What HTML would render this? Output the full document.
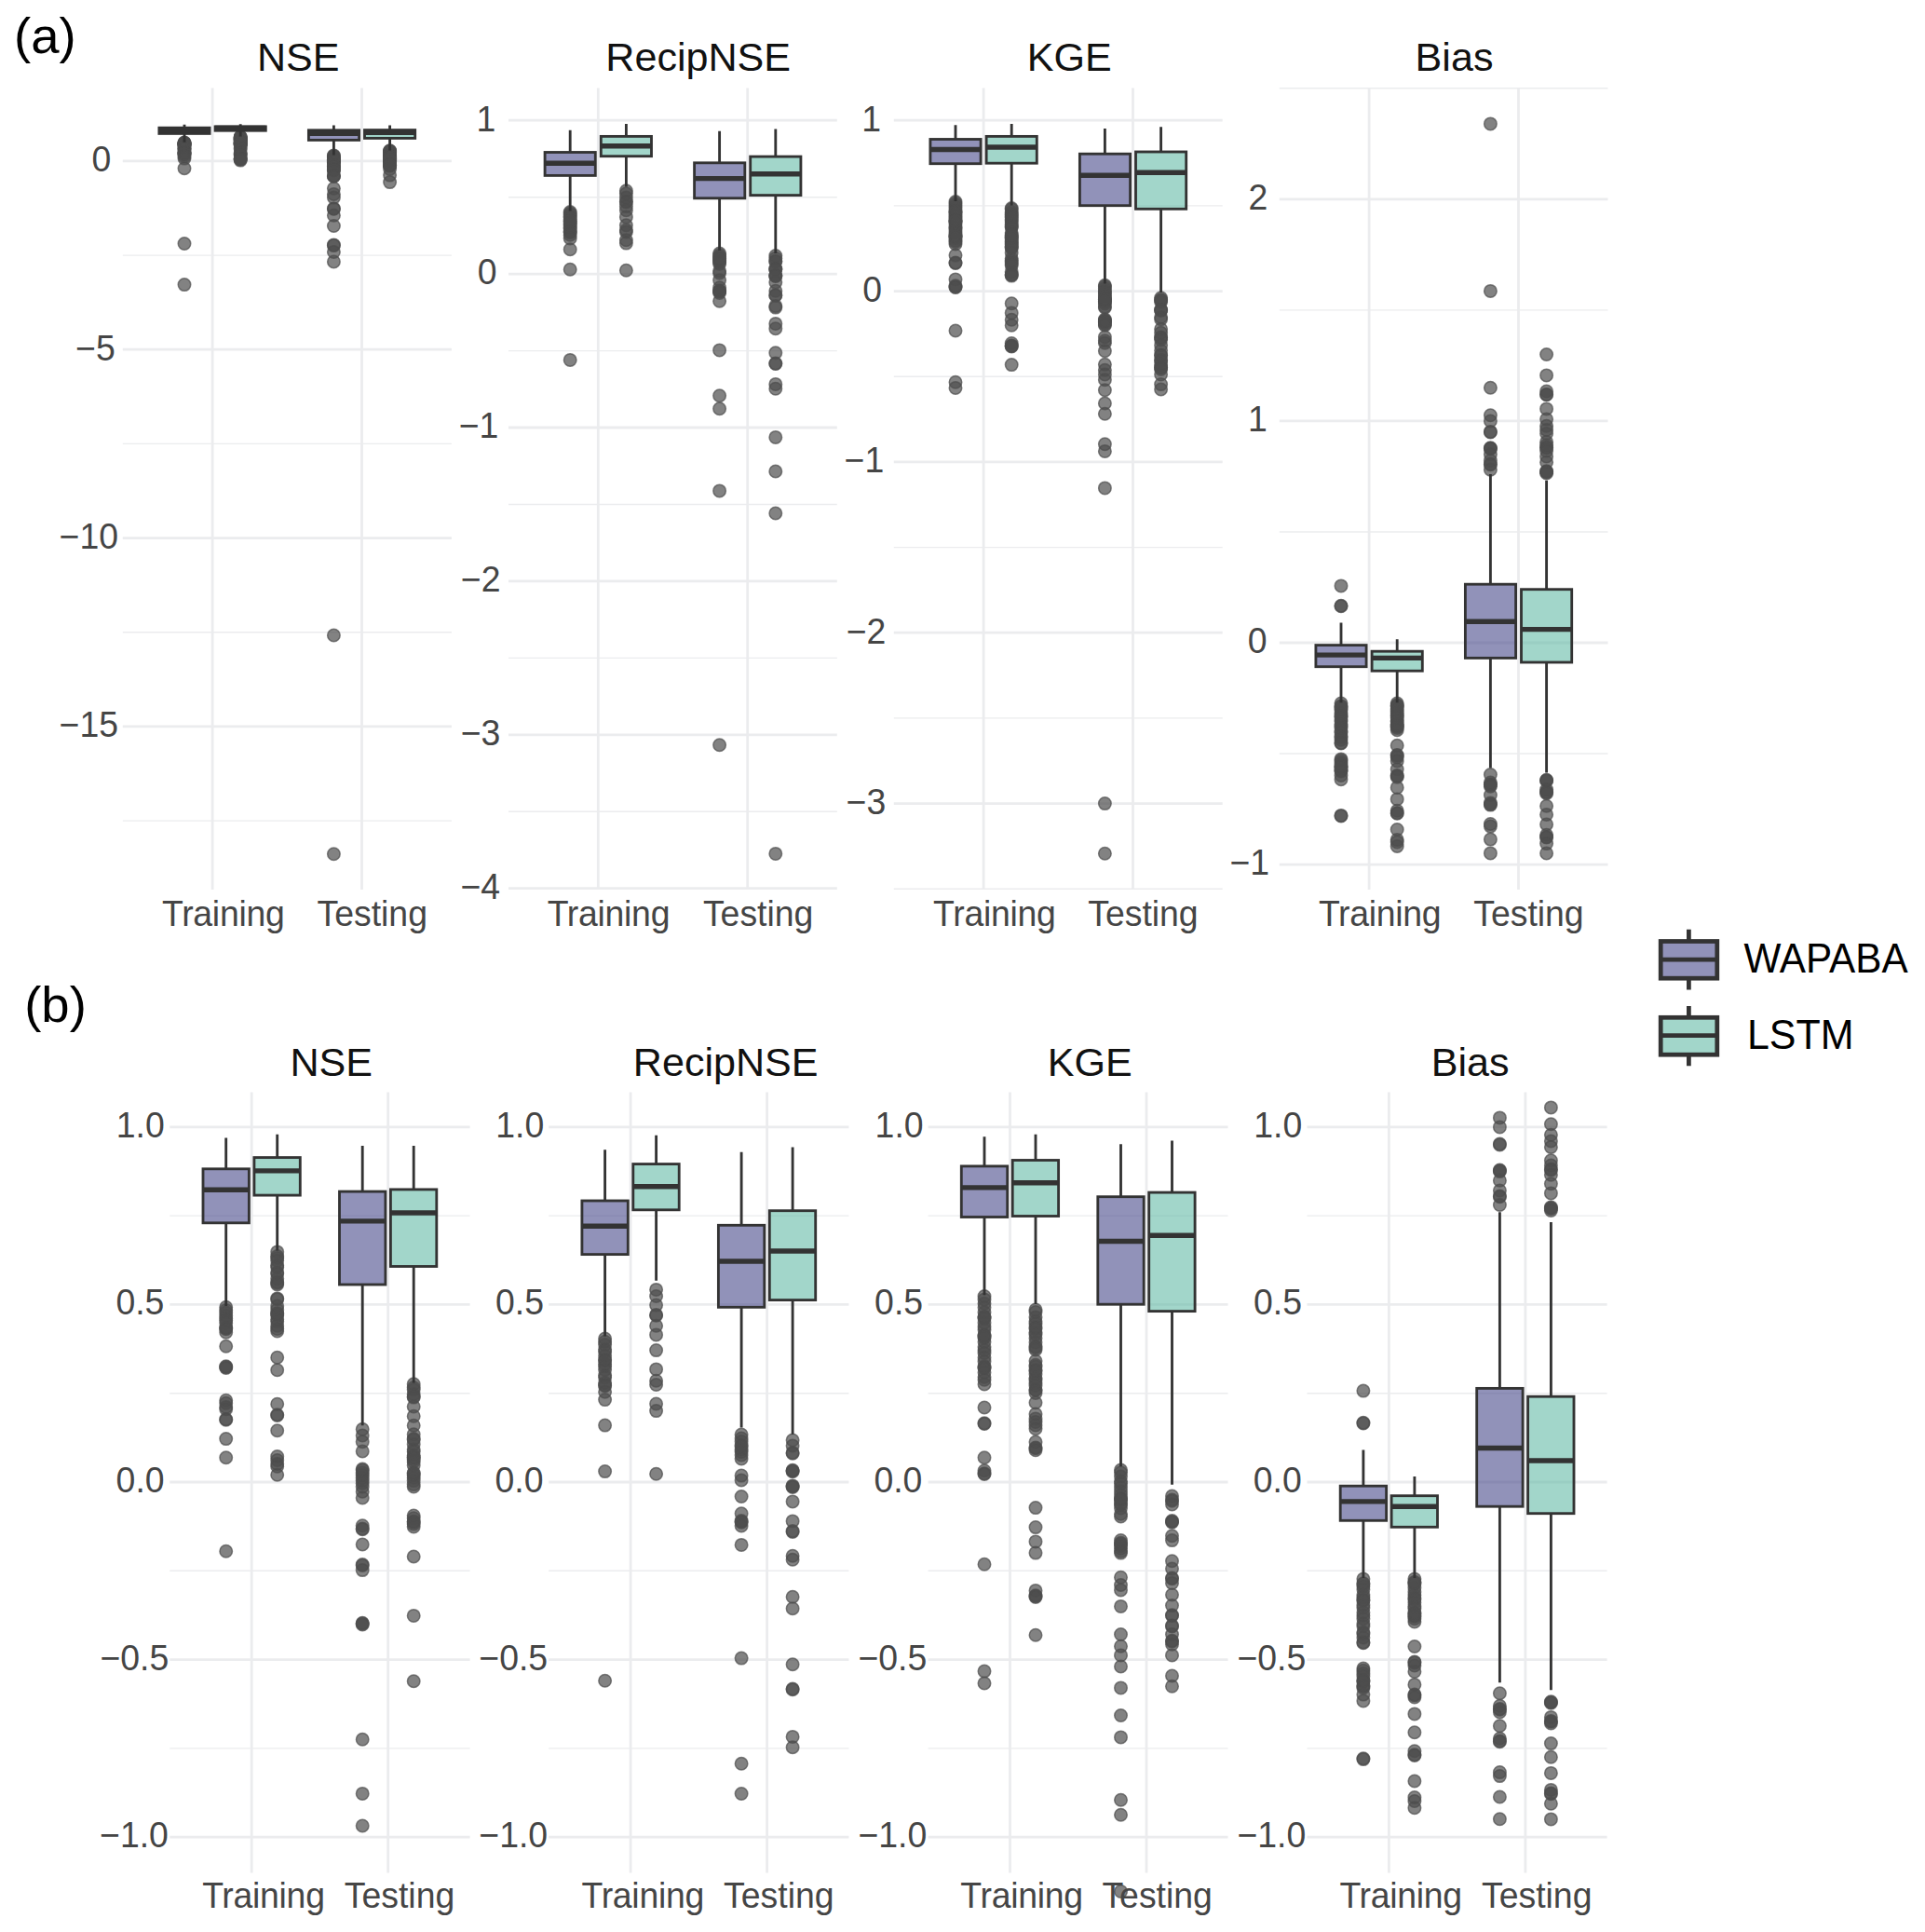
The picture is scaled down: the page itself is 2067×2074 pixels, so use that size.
<!DOCTYPE html>
<html lang="en"><head><meta charset="utf-8"><title>Model performance boxplots</title>
<style>html,body{margin:0;padding:0;background:#fff}svg{display:block}</style></head>
<body>
<svg width="2067" height="2074" viewBox="0 0 2067 2074" font-family="Liberation Sans, Arial, Helvetica, sans-serif">
<rect width="2067" height="2074" fill="#fff"/>
<path d="M131.8 274.1H484.9" stroke="#EBECEE" stroke-width="1.4"/>
<path d="M131.8 476.4H484.9" stroke="#EBECEE" stroke-width="1.4"/>
<path d="M131.8 678.8H484.9" stroke="#EBECEE" stroke-width="1.4"/>
<path d="M131.8 881.1H484.9" stroke="#EBECEE" stroke-width="1.4"/>
<path d="M131.8 172.9H484.9" stroke="#EBECEE" stroke-width="2.8"/>
<path d="M131.8 375.2H484.9" stroke="#EBECEE" stroke-width="2.8"/>
<path d="M131.8 577.6H484.9" stroke="#EBECEE" stroke-width="2.8"/>
<path d="M131.8 779.9H484.9" stroke="#EBECEE" stroke-width="2.8"/>
<path d="M228.1 94.6V955.0" stroke="#EBECEE" stroke-width="2.8"/>
<path d="M388.5 94.6V955.0" stroke="#EBECEE" stroke-width="2.8"/>
<g fill="#4D4D4D" fill-opacity=".7" stroke="#4D4D4D" stroke-opacity=".7" stroke-width="1.5"><circle cx="198.0" cy="153.0" r="6.75"/><circle cx="198.0" cy="153.3" r="6.75"/><circle cx="198.0" cy="153.6" r="6.75"/><circle cx="198.0" cy="154.0" r="6.75"/><circle cx="198.0" cy="154.3" r="6.75"/><circle cx="198.0" cy="154.5" r="6.75"/><circle cx="198.0" cy="154.8" r="6.75"/><circle cx="198.0" cy="155.3" r="6.75"/><circle cx="198.0" cy="155.5" r="6.75"/><circle cx="198.0" cy="155.8" r="6.75"/><circle cx="198.0" cy="155.4" r="6.75"/><circle cx="198.0" cy="157.4" r="6.75"/><circle cx="198.0" cy="159.7" r="6.75"/><circle cx="198.0" cy="159.8" r="6.75"/><circle cx="198.0" cy="159.9" r="6.75"/><circle cx="198.0" cy="163.6" r="6.75"/><circle cx="198.0" cy="163.9" r="6.75"/><circle cx="198.0" cy="164.3" r="6.75"/><circle cx="198.0" cy="164.6" r="6.75"/><circle cx="198.0" cy="165.7" r="6.75"/><circle cx="198.0" cy="165.8" r="6.75"/><circle cx="198.0" cy="168.0" r="6.75"/><circle cx="198.0" cy="170.1" r="6.75"/><circle cx="198.0" cy="180.8" r="6.75"/><circle cx="198.0" cy="261.5" r="6.75"/><circle cx="198.0" cy="305.6" r="6.75"/></g>
<g fill="#4D4D4D" fill-opacity=".7" stroke="#4D4D4D" stroke-opacity=".7" stroke-width="1.5"><circle cx="258.2" cy="146.7" r="6.75"/><circle cx="258.2" cy="147.2" r="6.75"/><circle cx="258.2" cy="147.4" r="6.75"/><circle cx="258.2" cy="147.7" r="6.75"/><circle cx="258.2" cy="148.2" r="6.75"/><circle cx="258.2" cy="148.4" r="6.75"/><circle cx="258.2" cy="149.0" r="6.75"/><circle cx="258.2" cy="149.2" r="6.75"/><circle cx="258.2" cy="149.7" r="6.75"/><circle cx="258.2" cy="150.1" r="6.75"/><circle cx="258.2" cy="150.4" r="6.75"/><circle cx="258.2" cy="150.2" r="6.75"/><circle cx="258.2" cy="152.0" r="6.75"/><circle cx="258.2" cy="152.1" r="6.75"/><circle cx="258.2" cy="152.8" r="6.75"/><circle cx="258.2" cy="153.2" r="6.75"/><circle cx="258.2" cy="153.7" r="6.75"/><circle cx="258.2" cy="153.9" r="6.75"/><circle cx="258.2" cy="154.3" r="6.75"/><circle cx="258.2" cy="154.6" r="6.75"/><circle cx="258.2" cy="155.1" r="6.75"/><circle cx="258.2" cy="155.4" r="6.75"/><circle cx="258.2" cy="155.7" r="6.75"/><circle cx="258.2" cy="153.7" r="6.75"/><circle cx="258.2" cy="158.7" r="6.75"/><circle cx="258.2" cy="160.1" r="6.75"/><circle cx="258.2" cy="164.0" r="6.75"/><circle cx="258.2" cy="165.2" r="6.75"/><circle cx="258.2" cy="165.3" r="6.75"/><circle cx="258.2" cy="167.0" r="6.75"/><circle cx="258.2" cy="170.0" r="6.75"/><circle cx="258.2" cy="170.4" r="6.75"/><circle cx="258.2" cy="170.8" r="6.75"/><circle cx="258.2" cy="171.1" r="6.75"/><circle cx="258.2" cy="172.1" r="6.75"/></g>
<g fill="#4D4D4D" fill-opacity=".7" stroke="#4D4D4D" stroke-opacity=".7" stroke-width="1.5"><circle cx="358.4" cy="166.9" r="6.75"/><circle cx="358.4" cy="167.6" r="6.75"/><circle cx="358.4" cy="168.3" r="6.75"/><circle cx="358.4" cy="169.4" r="6.75"/><circle cx="358.4" cy="171.4" r="6.75"/><circle cx="358.4" cy="171.8" r="6.75"/><circle cx="358.4" cy="172.1" r="6.75"/><circle cx="358.4" cy="172.4" r="6.75"/><circle cx="358.4" cy="172.7" r="6.75"/><circle cx="358.4" cy="173.0" r="6.75"/><circle cx="358.4" cy="173.4" r="6.75"/><circle cx="358.4" cy="171.6" r="6.75"/><circle cx="358.4" cy="174.0" r="6.75"/><circle cx="358.4" cy="174.7" r="6.75"/><circle cx="358.4" cy="177.9" r="6.75"/><circle cx="358.4" cy="178.2" r="6.75"/><circle cx="358.4" cy="178.3" r="6.75"/><circle cx="358.4" cy="180.0" r="6.75"/><circle cx="358.4" cy="182.3" r="6.75"/><circle cx="358.4" cy="182.4" r="6.75"/><circle cx="358.4" cy="182.9" r="6.75"/><circle cx="358.4" cy="189.0" r="6.75"/><circle cx="358.4" cy="189.0" r="6.75"/><circle cx="358.4" cy="189.1" r="6.75"/><circle cx="358.4" cy="202.2" r="6.75"/><circle cx="358.4" cy="208.4" r="6.75"/><circle cx="358.4" cy="212.1" r="6.75"/><circle cx="358.4" cy="223.9" r="6.75"/><circle cx="358.4" cy="224.3" r="6.75"/><circle cx="358.4" cy="231.2" r="6.75"/><circle cx="358.4" cy="242.5" r="6.75"/><circle cx="358.4" cy="262.9" r="6.75"/><circle cx="358.4" cy="263.6" r="6.75"/><circle cx="358.4" cy="270.4" r="6.75"/><circle cx="358.4" cy="281.0" r="6.75"/><circle cx="358.4" cy="682.0" r="6.75"/><circle cx="358.4" cy="916.7" r="6.75"/></g>
<g fill="#4D4D4D" fill-opacity=".7" stroke="#4D4D4D" stroke-opacity=".7" stroke-width="1.5"><circle cx="418.6" cy="161.7" r="6.75"/><circle cx="418.6" cy="162.1" r="6.75"/><circle cx="418.6" cy="162.4" r="6.75"/><circle cx="418.6" cy="162.9" r="6.75"/><circle cx="418.6" cy="163.2" r="6.75"/><circle cx="418.6" cy="163.2" r="6.75"/><circle cx="418.6" cy="164.3" r="6.75"/><circle cx="418.6" cy="165.4" r="6.75"/><circle cx="418.6" cy="166.5" r="6.75"/><circle cx="418.6" cy="167.5" r="6.75"/><circle cx="418.6" cy="168.0" r="6.75"/><circle cx="418.6" cy="168.1" r="6.75"/><circle cx="418.6" cy="168.6" r="6.75"/><circle cx="418.6" cy="169.2" r="6.75"/><circle cx="418.6" cy="169.4" r="6.75"/><circle cx="418.6" cy="169.9" r="6.75"/><circle cx="418.6" cy="170.1" r="6.75"/><circle cx="418.6" cy="170.3" r="6.75"/><circle cx="418.6" cy="170.6" r="6.75"/><circle cx="418.6" cy="171.0" r="6.75"/><circle cx="418.6" cy="170.1" r="6.75"/><circle cx="418.6" cy="171.8" r="6.75"/><circle cx="418.6" cy="172.1" r="6.75"/><circle cx="418.6" cy="172.4" r="6.75"/><circle cx="418.6" cy="172.7" r="6.75"/><circle cx="418.6" cy="173.2" r="6.75"/><circle cx="418.6" cy="173.4" r="6.75"/><circle cx="418.6" cy="171.9" r="6.75"/><circle cx="418.6" cy="176.7" r="6.75"/><circle cx="418.6" cy="177.0" r="6.75"/><circle cx="418.6" cy="177.4" r="6.75"/><circle cx="418.6" cy="177.7" r="6.75"/><circle cx="418.6" cy="178.0" r="6.75"/><circle cx="418.6" cy="177.5" r="6.75"/><circle cx="418.6" cy="181.4" r="6.75"/><circle cx="418.6" cy="188.1" r="6.75"/><circle cx="418.6" cy="195.6" r="6.75"/></g>
<path d="M198.0 133.7V137.2M198.0 143.4V152.8" stroke="#333333" stroke-width="2.85"/>
<rect x="170.9" y="137.2" width="54.2" height="6.2" fill="#414487" fill-opacity="0.58" stroke="none"/>
<rect x="170.9" y="137.2" width="54.2" height="6.2" fill="none" stroke="#333333" stroke-width="2.85"/>
<path d="M170.9 139.6H225.1" stroke="#333333" stroke-width="5.4"/>
<path d="M258.2 133.3V135.9M258.2 140.2V146.5" stroke="#333333" stroke-width="2.85"/>
<rect x="231.1" y="135.9" width="54.2" height="4.3" fill="#5FB8A3" fill-opacity="0.58" stroke="none"/>
<rect x="231.1" y="135.9" width="54.2" height="4.3" fill="none" stroke="#333333" stroke-width="2.85"/>
<path d="M231.1 137.4H285.2" stroke="#333333" stroke-width="5.4"/>
<path d="M358.4 134.6V139.8M358.4 150.4V166.5" stroke="#333333" stroke-width="2.85"/>
<rect x="331.4" y="139.8" width="54.2" height="10.6" fill="#414487" fill-opacity="0.58" stroke="none"/>
<rect x="331.4" y="139.8" width="54.2" height="10.6" fill="none" stroke="#333333" stroke-width="2.85"/>
<path d="M331.4 143.2H385.5" stroke="#333333" stroke-width="5.4"/>
<path d="M418.6 134.6V139.6M418.6 148.3V161.6" stroke="#333333" stroke-width="2.85"/>
<rect x="391.5" y="139.6" width="54.2" height="8.8" fill="#5FB8A3" fill-opacity="0.58" stroke="none"/>
<rect x="391.5" y="139.6" width="54.2" height="8.8" fill="none" stroke="#333333" stroke-width="2.85"/>
<path d="M391.5 142.2H445.7" stroke="#333333" stroke-width="5.4"/>
<path d="M546.0 211.7H898.8" stroke="#EBECEE" stroke-width="1.4"/>
<path d="M546.0 376.6H898.8" stroke="#EBECEE" stroke-width="1.4"/>
<path d="M546.0 541.5H898.8" stroke="#EBECEE" stroke-width="1.4"/>
<path d="M546.0 706.4H898.8" stroke="#EBECEE" stroke-width="1.4"/>
<path d="M546.0 871.2H898.8" stroke="#EBECEE" stroke-width="1.4"/>
<path d="M546.0 129.2H898.8" stroke="#EBECEE" stroke-width="2.8"/>
<path d="M546.0 294.1H898.8" stroke="#EBECEE" stroke-width="2.8"/>
<path d="M546.0 459.0H898.8" stroke="#EBECEE" stroke-width="2.8"/>
<path d="M546.0 623.9H898.8" stroke="#EBECEE" stroke-width="2.8"/>
<path d="M546.0 788.8H898.8" stroke="#EBECEE" stroke-width="2.8"/>
<path d="M546.0 953.7H898.8" stroke="#EBECEE" stroke-width="2.8"/>
<path d="M642.3 94.6V955.0" stroke="#EBECEE" stroke-width="2.8"/>
<path d="M802.7 94.6V955.0" stroke="#EBECEE" stroke-width="2.8"/>
<g fill="#4D4D4D" fill-opacity=".7" stroke="#4D4D4D" stroke-opacity=".7" stroke-width="1.5"><circle cx="612.2" cy="227.5" r="6.75"/><circle cx="612.2" cy="228.9" r="6.75"/><circle cx="612.2" cy="230.3" r="6.75"/><circle cx="612.2" cy="232.6" r="6.75"/><circle cx="612.2" cy="233.6" r="6.75"/><circle cx="612.2" cy="235.4" r="6.75"/><circle cx="612.2" cy="237.4" r="6.75"/><circle cx="612.2" cy="239.3" r="6.75"/><circle cx="612.2" cy="240.4" r="6.75"/><circle cx="612.2" cy="241.9" r="6.75"/><circle cx="612.2" cy="244.5" r="6.75"/><circle cx="612.2" cy="245.6" r="6.75"/><circle cx="612.2" cy="248.0" r="6.75"/><circle cx="612.2" cy="249.1" r="6.75"/><circle cx="612.2" cy="237.6" r="6.75"/><circle cx="612.2" cy="249.4" r="6.75"/><circle cx="612.2" cy="252.3" r="6.75"/><circle cx="612.2" cy="255.9" r="6.75"/><circle cx="612.2" cy="267.8" r="6.75"/><circle cx="612.2" cy="289.2" r="6.75"/><circle cx="612.2" cy="386.4" r="6.75"/></g>
<g fill="#4D4D4D" fill-opacity=".7" stroke="#4D4D4D" stroke-opacity=".7" stroke-width="1.5"><circle cx="672.4" cy="204.7" r="6.75"/><circle cx="672.4" cy="207.8" r="6.75"/><circle cx="672.4" cy="212.0" r="6.75"/><circle cx="672.4" cy="216.4" r="6.75"/><circle cx="672.4" cy="216.8" r="6.75"/><circle cx="672.4" cy="221.6" r="6.75"/><circle cx="672.4" cy="225.7" r="6.75"/><circle cx="672.4" cy="232.9" r="6.75"/><circle cx="672.4" cy="241.7" r="6.75"/><circle cx="672.4" cy="247.1" r="6.75"/><circle cx="672.4" cy="248.9" r="6.75"/><circle cx="672.4" cy="257.8" r="6.75"/><circle cx="672.4" cy="261.1" r="6.75"/><circle cx="672.4" cy="290.3" r="6.75"/></g>
<g fill="#4D4D4D" fill-opacity=".7" stroke="#4D4D4D" stroke-opacity=".7" stroke-width="1.5"><circle cx="772.6" cy="272.0" r="6.75"/><circle cx="772.6" cy="273.8" r="6.75"/><circle cx="772.6" cy="275.3" r="6.75"/><circle cx="772.6" cy="277.0" r="6.75"/><circle cx="772.6" cy="279.0" r="6.75"/><circle cx="772.6" cy="280.1" r="6.75"/><circle cx="772.6" cy="281.6" r="6.75"/><circle cx="772.6" cy="283.3" r="6.75"/><circle cx="772.6" cy="277.6" r="6.75"/><circle cx="772.6" cy="291.1" r="6.75"/><circle cx="772.6" cy="293.2" r="6.75"/><circle cx="772.6" cy="300.8" r="6.75"/><circle cx="772.6" cy="308.7" r="6.75"/><circle cx="772.6" cy="312.1" r="6.75"/><circle cx="772.6" cy="312.4" r="6.75"/><circle cx="772.6" cy="312.8" r="6.75"/><circle cx="772.6" cy="314.4" r="6.75"/><circle cx="772.6" cy="323.3" r="6.75"/><circle cx="772.6" cy="375.9" r="6.75"/><circle cx="772.6" cy="424.8" r="6.75"/><circle cx="772.6" cy="438.8" r="6.75"/><circle cx="772.6" cy="526.9" r="6.75"/><circle cx="772.6" cy="799.8" r="6.75"/></g>
<g fill="#4D4D4D" fill-opacity=".7" stroke="#4D4D4D" stroke-opacity=".7" stroke-width="1.5"><circle cx="832.8" cy="274.6" r="6.75"/><circle cx="832.8" cy="277.2" r="6.75"/><circle cx="832.8" cy="280.4" r="6.75"/><circle cx="832.8" cy="280.8" r="6.75"/><circle cx="832.8" cy="288.6" r="6.75"/><circle cx="832.8" cy="288.9" r="6.75"/><circle cx="832.8" cy="289.3" r="6.75"/><circle cx="832.8" cy="295.8" r="6.75"/><circle cx="832.8" cy="296.1" r="6.75"/><circle cx="832.8" cy="296.5" r="6.75"/><circle cx="832.8" cy="303.1" r="6.75"/><circle cx="832.8" cy="312.2" r="6.75"/><circle cx="832.8" cy="316.9" r="6.75"/><circle cx="832.8" cy="317.2" r="6.75"/><circle cx="832.8" cy="328.4" r="6.75"/><circle cx="832.8" cy="330.1" r="6.75"/><circle cx="832.8" cy="347.4" r="6.75"/><circle cx="832.8" cy="352.8" r="6.75"/><circle cx="832.8" cy="378.8" r="6.75"/><circle cx="832.8" cy="390.1" r="6.75"/><circle cx="832.8" cy="390.5" r="6.75"/><circle cx="832.8" cy="412.4" r="6.75"/><circle cx="832.8" cy="417.3" r="6.75"/><circle cx="832.8" cy="469.4" r="6.75"/><circle cx="832.8" cy="506.0" r="6.75"/><circle cx="832.8" cy="551.0" r="6.75"/><circle cx="832.8" cy="916.4" r="6.75"/></g>
<path d="M612.2 139.8V163.5M612.2 188.4V226.4" stroke="#333333" stroke-width="2.85"/>
<rect x="585.1" y="163.5" width="54.2" height="24.9" fill="#414487" fill-opacity="0.58" stroke="none"/>
<rect x="585.1" y="163.5" width="54.2" height="24.9" fill="none" stroke="#333333" stroke-width="2.85"/>
<path d="M585.1 175.3H639.3" stroke="#333333" stroke-width="5.4"/>
<path d="M672.4 133.1V146.4M672.4 167.7V200.6" stroke="#333333" stroke-width="2.85"/>
<rect x="645.3" y="146.4" width="54.2" height="21.3" fill="#5FB8A3" fill-opacity="0.58" stroke="none"/>
<rect x="645.3" y="146.4" width="54.2" height="21.3" fill="none" stroke="#333333" stroke-width="2.85"/>
<path d="M645.3 156.8H699.4" stroke="#333333" stroke-width="5.4"/>
<path d="M772.6 140.8V174.8M772.6 212.9V268.8" stroke="#333333" stroke-width="2.85"/>
<rect x="745.6" y="174.8" width="54.2" height="38.0" fill="#414487" fill-opacity="0.58" stroke="none"/>
<rect x="745.6" y="174.8" width="54.2" height="38.0" fill="none" stroke="#333333" stroke-width="2.85"/>
<path d="M745.6 191.6H799.7" stroke="#333333" stroke-width="5.4"/>
<path d="M832.8 138.5V168.1M832.8 209.6V271.9" stroke="#333333" stroke-width="2.85"/>
<rect x="805.7" y="168.1" width="54.2" height="41.5" fill="#5FB8A3" fill-opacity="0.58" stroke="none"/>
<rect x="805.7" y="168.1" width="54.2" height="41.5" fill="none" stroke="#333333" stroke-width="2.85"/>
<path d="M805.7 186.8H859.9" stroke="#333333" stroke-width="5.4"/>
<path d="M959.8 220.9H1312.7" stroke="#EBECEE" stroke-width="1.4"/>
<path d="M959.8 404.2H1312.7" stroke="#EBECEE" stroke-width="1.4"/>
<path d="M959.8 587.6H1312.7" stroke="#EBECEE" stroke-width="1.4"/>
<path d="M959.8 770.9H1312.7" stroke="#EBECEE" stroke-width="1.4"/>
<path d="M959.8 954.3H1312.7" stroke="#EBECEE" stroke-width="1.4"/>
<path d="M959.8 129.2H1312.7" stroke="#EBECEE" stroke-width="2.8"/>
<path d="M959.8 312.6H1312.7" stroke="#EBECEE" stroke-width="2.8"/>
<path d="M959.8 495.9H1312.7" stroke="#EBECEE" stroke-width="2.8"/>
<path d="M959.8 679.2H1312.7" stroke="#EBECEE" stroke-width="2.8"/>
<path d="M959.8 862.6H1312.7" stroke="#EBECEE" stroke-width="2.8"/>
<path d="M1056.1 94.6V955.0" stroke="#EBECEE" stroke-width="2.8"/>
<path d="M1216.5 94.6V955.0" stroke="#EBECEE" stroke-width="2.8"/>
<g fill="#4D4D4D" fill-opacity=".7" stroke="#4D4D4D" stroke-opacity=".7" stroke-width="1.5"><circle cx="1026.0" cy="216.6" r="6.75"/><circle cx="1026.0" cy="218.2" r="6.75"/><circle cx="1026.0" cy="220.3" r="6.75"/><circle cx="1026.0" cy="222.3" r="6.75"/><circle cx="1026.0" cy="224.9" r="6.75"/><circle cx="1026.0" cy="227.1" r="6.75"/><circle cx="1026.0" cy="228.2" r="6.75"/><circle cx="1026.0" cy="230.3" r="6.75"/><circle cx="1026.0" cy="232.5" r="6.75"/><circle cx="1026.0" cy="233.9" r="6.75"/><circle cx="1026.0" cy="236.5" r="6.75"/><circle cx="1026.0" cy="238.1" r="6.75"/><circle cx="1026.0" cy="240.1" r="6.75"/><circle cx="1026.0" cy="242.9" r="6.75"/><circle cx="1026.0" cy="244.4" r="6.75"/><circle cx="1026.0" cy="245.9" r="6.75"/><circle cx="1026.0" cy="248.2" r="6.75"/><circle cx="1026.0" cy="250.3" r="6.75"/><circle cx="1026.0" cy="252.8" r="6.75"/><circle cx="1026.0" cy="253.5" r="6.75"/><circle cx="1026.0" cy="255.9" r="6.75"/><circle cx="1026.0" cy="258.3" r="6.75"/><circle cx="1026.0" cy="259.8" r="6.75"/><circle cx="1026.0" cy="262.0" r="6.75"/><circle cx="1026.0" cy="227.4" r="6.75"/><circle cx="1026.0" cy="237.1" r="6.75"/><circle cx="1026.0" cy="253.7" r="6.75"/><circle cx="1026.0" cy="237.4" r="6.75"/><circle cx="1026.0" cy="274.1" r="6.75"/><circle cx="1026.0" cy="282.1" r="6.75"/><circle cx="1026.0" cy="282.5" r="6.75"/><circle cx="1026.0" cy="299.9" r="6.75"/><circle cx="1026.0" cy="306.7" r="6.75"/><circle cx="1026.0" cy="308.1" r="6.75"/><circle cx="1026.0" cy="308.5" r="6.75"/><circle cx="1026.0" cy="355.0" r="6.75"/><circle cx="1026.0" cy="410.2" r="6.75"/><circle cx="1026.0" cy="416.4" r="6.75"/></g>
<g fill="#4D4D4D" fill-opacity=".7" stroke="#4D4D4D" stroke-opacity=".7" stroke-width="1.5"><circle cx="1086.2" cy="223.6" r="6.75"/><circle cx="1086.2" cy="224.8" r="6.75"/><circle cx="1086.2" cy="227.4" r="6.75"/><circle cx="1086.2" cy="229.5" r="6.75"/><circle cx="1086.2" cy="230.8" r="6.75"/><circle cx="1086.2" cy="232.6" r="6.75"/><circle cx="1086.2" cy="235.2" r="6.75"/><circle cx="1086.2" cy="236.4" r="6.75"/><circle cx="1086.2" cy="238.2" r="6.75"/><circle cx="1086.2" cy="240.4" r="6.75"/><circle cx="1086.2" cy="242.6" r="6.75"/><circle cx="1086.2" cy="244.3" r="6.75"/><circle cx="1086.2" cy="233.3" r="6.75"/><circle cx="1086.2" cy="243.2" r="6.75"/><circle cx="1086.2" cy="250.0" r="6.75"/><circle cx="1086.2" cy="252.1" r="6.75"/><circle cx="1086.2" cy="253.0" r="6.75"/><circle cx="1086.2" cy="254.8" r="6.75"/><circle cx="1086.2" cy="256.8" r="6.75"/><circle cx="1086.2" cy="258.8" r="6.75"/><circle cx="1086.2" cy="259.9" r="6.75"/><circle cx="1086.2" cy="261.3" r="6.75"/><circle cx="1086.2" cy="262.8" r="6.75"/><circle cx="1086.2" cy="264.9" r="6.75"/><circle cx="1086.2" cy="255.0" r="6.75"/><circle cx="1086.2" cy="265.1" r="6.75"/><circle cx="1086.2" cy="266.6" r="6.75"/><circle cx="1086.2" cy="271.5" r="6.75"/><circle cx="1086.2" cy="277.4" r="6.75"/><circle cx="1086.2" cy="279.8" r="6.75"/><circle cx="1086.2" cy="281.5" r="6.75"/><circle cx="1086.2" cy="283.2" r="6.75"/><circle cx="1086.2" cy="285.0" r="6.75"/><circle cx="1086.2" cy="291.9" r="6.75"/><circle cx="1086.2" cy="294.8" r="6.75"/><circle cx="1086.2" cy="295.1" r="6.75"/><circle cx="1086.2" cy="296.1" r="6.75"/><circle cx="1086.2" cy="325.8" r="6.75"/><circle cx="1086.2" cy="335.9" r="6.75"/><circle cx="1086.2" cy="343.3" r="6.75"/><circle cx="1086.2" cy="349.2" r="6.75"/><circle cx="1086.2" cy="368.5" r="6.75"/><circle cx="1086.2" cy="371.1" r="6.75"/><circle cx="1086.2" cy="371.5" r="6.75"/><circle cx="1086.2" cy="371.9" r="6.75"/><circle cx="1086.2" cy="391.6" r="6.75"/></g>
<g fill="#4D4D4D" fill-opacity=".7" stroke="#4D4D4D" stroke-opacity=".7" stroke-width="1.5"><circle cx="1186.4" cy="306.3" r="6.75"/><circle cx="1186.4" cy="307.7" r="6.75"/><circle cx="1186.4" cy="309.7" r="6.75"/><circle cx="1186.4" cy="312.2" r="6.75"/><circle cx="1186.4" cy="313.4" r="6.75"/><circle cx="1186.4" cy="315.3" r="6.75"/><circle cx="1186.4" cy="317.3" r="6.75"/><circle cx="1186.4" cy="319.1" r="6.75"/><circle cx="1186.4" cy="321.0" r="6.75"/><circle cx="1186.4" cy="323.5" r="6.75"/><circle cx="1186.4" cy="324.4" r="6.75"/><circle cx="1186.4" cy="326.0" r="6.75"/><circle cx="1186.4" cy="329.1" r="6.75"/><circle cx="1186.4" cy="330.3" r="6.75"/><circle cx="1186.4" cy="321.3" r="6.75"/><circle cx="1186.4" cy="321.8" r="6.75"/><circle cx="1186.4" cy="342.7" r="6.75"/><circle cx="1186.4" cy="343.9" r="6.75"/><circle cx="1186.4" cy="345.5" r="6.75"/><circle cx="1186.4" cy="346.8" r="6.75"/><circle cx="1186.4" cy="348.3" r="6.75"/><circle cx="1186.4" cy="349.2" r="6.75"/><circle cx="1186.4" cy="344.5" r="6.75"/><circle cx="1186.4" cy="361.7" r="6.75"/><circle cx="1186.4" cy="365.7" r="6.75"/><circle cx="1186.4" cy="368.3" r="6.75"/><circle cx="1186.4" cy="376.7" r="6.75"/><circle cx="1186.4" cy="391.2" r="6.75"/><circle cx="1186.4" cy="397.3" r="6.75"/><circle cx="1186.4" cy="402.0" r="6.75"/><circle cx="1186.4" cy="407.8" r="6.75"/><circle cx="1186.4" cy="418.8" r="6.75"/><circle cx="1186.4" cy="433.0" r="6.75"/><circle cx="1186.4" cy="444.3" r="6.75"/><circle cx="1186.4" cy="476.7" r="6.75"/><circle cx="1186.4" cy="484.4" r="6.75"/><circle cx="1186.4" cy="523.9" r="6.75"/><circle cx="1186.4" cy="862.6" r="6.75"/><circle cx="1186.4" cy="916.3" r="6.75"/></g>
<g fill="#4D4D4D" fill-opacity=".7" stroke="#4D4D4D" stroke-opacity=".7" stroke-width="1.5"><circle cx="1246.6" cy="319.8" r="6.75"/><circle cx="1246.6" cy="321.7" r="6.75"/><circle cx="1246.6" cy="322.3" r="6.75"/><circle cx="1246.6" cy="324.1" r="6.75"/><circle cx="1246.6" cy="332.6" r="6.75"/><circle cx="1246.6" cy="332.9" r="6.75"/><circle cx="1246.6" cy="333.3" r="6.75"/><circle cx="1246.6" cy="340.4" r="6.75"/><circle cx="1246.6" cy="342.7" r="6.75"/><circle cx="1246.6" cy="353.3" r="6.75"/><circle cx="1246.6" cy="357.3" r="6.75"/><circle cx="1246.6" cy="362.1" r="6.75"/><circle cx="1246.6" cy="362.5" r="6.75"/><circle cx="1246.6" cy="364.7" r="6.75"/><circle cx="1246.6" cy="370.7" r="6.75"/><circle cx="1246.6" cy="376.3" r="6.75"/><circle cx="1246.6" cy="381.2" r="6.75"/><circle cx="1246.6" cy="381.6" r="6.75"/><circle cx="1246.6" cy="386.7" r="6.75"/><circle cx="1246.6" cy="387.1" r="6.75"/><circle cx="1246.6" cy="391.2" r="6.75"/><circle cx="1246.6" cy="394.5" r="6.75"/><circle cx="1246.6" cy="394.8" r="6.75"/><circle cx="1246.6" cy="396.4" r="6.75"/><circle cx="1246.6" cy="402.0" r="6.75"/><circle cx="1246.6" cy="412.6" r="6.75"/><circle cx="1246.6" cy="418.0" r="6.75"/></g>
<path d="M1026.0 134.2V149.5M1026.0 175.7V216.0" stroke="#333333" stroke-width="2.85"/>
<rect x="998.9" y="149.5" width="54.2" height="26.2" fill="#414487" fill-opacity="0.58" stroke="none"/>
<rect x="998.9" y="149.5" width="54.2" height="26.2" fill="none" stroke="#333333" stroke-width="2.85"/>
<path d="M998.9 160.5H1053.1" stroke="#333333" stroke-width="5.4"/>
<path d="M1086.2 133.0V146.4M1086.2 175.2V220.6" stroke="#333333" stroke-width="2.85"/>
<rect x="1059.1" y="146.4" width="54.2" height="28.8" fill="#5FB8A3" fill-opacity="0.58" stroke="none"/>
<rect x="1059.1" y="146.4" width="54.2" height="28.8" fill="none" stroke="#333333" stroke-width="2.85"/>
<path d="M1059.1 158.0H1113.2" stroke="#333333" stroke-width="5.4"/>
<path d="M1186.4 138.1V165.2M1186.4 220.8V304.5" stroke="#333333" stroke-width="2.85"/>
<rect x="1159.4" y="165.2" width="54.2" height="55.5" fill="#414487" fill-opacity="0.58" stroke="none"/>
<rect x="1159.4" y="165.2" width="54.2" height="55.5" fill="none" stroke="#333333" stroke-width="2.85"/>
<path d="M1159.4 188.2H1213.5" stroke="#333333" stroke-width="5.4"/>
<path d="M1246.6 136.3V163.0M1246.6 224.3V313.9" stroke="#333333" stroke-width="2.85"/>
<rect x="1219.5" y="163.0" width="54.2" height="61.3" fill="#5FB8A3" fill-opacity="0.58" stroke="none"/>
<rect x="1219.5" y="163.0" width="54.2" height="61.3" fill="none" stroke="#333333" stroke-width="2.85"/>
<path d="M1219.5 185.2H1273.7" stroke="#333333" stroke-width="5.4"/>
<path d="M1373.8 94.8H1726.5" stroke="#EBECEE" stroke-width="1.4"/>
<path d="M1373.8 332.9H1726.5" stroke="#EBECEE" stroke-width="1.4"/>
<path d="M1373.8 571.0H1726.5" stroke="#EBECEE" stroke-width="1.4"/>
<path d="M1373.8 809.0H1726.5" stroke="#EBECEE" stroke-width="1.4"/>
<path d="M1373.8 213.9H1726.5" stroke="#EBECEE" stroke-width="2.8"/>
<path d="M1373.8 451.9H1726.5" stroke="#EBECEE" stroke-width="2.8"/>
<path d="M1373.8 690.0H1726.5" stroke="#EBECEE" stroke-width="2.8"/>
<path d="M1373.8 928.1H1726.5" stroke="#EBECEE" stroke-width="2.8"/>
<path d="M1470.1 94.6V955.0" stroke="#EBECEE" stroke-width="2.8"/>
<path d="M1630.5 94.6V955.0" stroke="#EBECEE" stroke-width="2.8"/>
<g fill="#4D4D4D" fill-opacity=".7" stroke="#4D4D4D" stroke-opacity=".7" stroke-width="1.5"><circle cx="1440.0" cy="628.9" r="6.75"/><circle cx="1440.0" cy="650.2" r="6.75"/><circle cx="1440.0" cy="650.7" r="6.75"/><circle cx="1440.0" cy="755.0" r="6.75"/><circle cx="1440.0" cy="758.0" r="6.75"/><circle cx="1440.0" cy="760.0" r="6.75"/><circle cx="1440.0" cy="761.9" r="6.75"/><circle cx="1440.0" cy="765.6" r="6.75"/><circle cx="1440.0" cy="767.3" r="6.75"/><circle cx="1440.0" cy="769.2" r="6.75"/><circle cx="1440.0" cy="772.4" r="6.75"/><circle cx="1440.0" cy="774.3" r="6.75"/><circle cx="1440.0" cy="777.4" r="6.75"/><circle cx="1440.0" cy="779.5" r="6.75"/><circle cx="1440.0" cy="781.6" r="6.75"/><circle cx="1440.0" cy="785.0" r="6.75"/><circle cx="1440.0" cy="786.6" r="6.75"/><circle cx="1440.0" cy="790.6" r="6.75"/><circle cx="1440.0" cy="791.7" r="6.75"/><circle cx="1440.0" cy="794.3" r="6.75"/><circle cx="1440.0" cy="797.4" r="6.75"/><circle cx="1440.0" cy="797.9" r="6.75"/><circle cx="1440.0" cy="758.3" r="6.75"/><circle cx="1440.0" cy="769.3" r="6.75"/><circle cx="1440.0" cy="814.9" r="6.75"/><circle cx="1440.0" cy="816.3" r="6.75"/><circle cx="1440.0" cy="818.3" r="6.75"/><circle cx="1440.0" cy="820.2" r="6.75"/><circle cx="1440.0" cy="822.9" r="6.75"/><circle cx="1440.0" cy="823.8" r="6.75"/><circle cx="1440.0" cy="826.7" r="6.75"/><circle cx="1440.0" cy="828.0" r="6.75"/><circle cx="1440.0" cy="826.7" r="6.75"/><circle cx="1440.0" cy="823.1" r="6.75"/><circle cx="1440.0" cy="832.5" r="6.75"/><circle cx="1440.0" cy="836.7" r="6.75"/><circle cx="1440.0" cy="875.4" r="6.75"/><circle cx="1440.0" cy="875.9" r="6.75"/></g>
<g fill="#4D4D4D" fill-opacity=".7" stroke="#4D4D4D" stroke-opacity=".7" stroke-width="1.5"><circle cx="1500.2" cy="755.0" r="6.75"/><circle cx="1500.2" cy="757.0" r="6.75"/><circle cx="1500.2" cy="758.4" r="6.75"/><circle cx="1500.2" cy="760.9" r="6.75"/><circle cx="1500.2" cy="763.6" r="6.75"/><circle cx="1500.2" cy="765.7" r="6.75"/><circle cx="1500.2" cy="767.7" r="6.75"/><circle cx="1500.2" cy="768.7" r="6.75"/><circle cx="1500.2" cy="770.7" r="6.75"/><circle cx="1500.2" cy="773.4" r="6.75"/><circle cx="1500.2" cy="774.8" r="6.75"/><circle cx="1500.2" cy="777.8" r="6.75"/><circle cx="1500.2" cy="779.6" r="6.75"/><circle cx="1500.2" cy="781.6" r="6.75"/><circle cx="1500.2" cy="783.7" r="6.75"/><circle cx="1500.2" cy="757.4" r="6.75"/><circle cx="1500.2" cy="780.1" r="6.75"/><circle cx="1500.2" cy="778.1" r="6.75"/><circle cx="1500.2" cy="800.2" r="6.75"/><circle cx="1500.2" cy="810.6" r="6.75"/><circle cx="1500.2" cy="811.1" r="6.75"/><circle cx="1500.2" cy="813.0" r="6.75"/><circle cx="1500.2" cy="817.0" r="6.75"/><circle cx="1500.2" cy="825.8" r="6.75"/><circle cx="1500.2" cy="832.5" r="6.75"/><circle cx="1500.2" cy="833.0" r="6.75"/><circle cx="1500.2" cy="834.3" r="6.75"/><circle cx="1500.2" cy="845.4" r="6.75"/><circle cx="1500.2" cy="857.9" r="6.75"/><circle cx="1500.2" cy="870.3" r="6.75"/><circle cx="1500.2" cy="872.8" r="6.75"/><circle cx="1500.2" cy="873.3" r="6.75"/><circle cx="1500.2" cy="890.5" r="6.75"/><circle cx="1500.2" cy="901.4" r="6.75"/><circle cx="1500.2" cy="903.9" r="6.75"/><circle cx="1500.2" cy="908.5" r="6.75"/></g>
<g fill="#4D4D4D" fill-opacity=".7" stroke="#4D4D4D" stroke-opacity=".7" stroke-width="1.5"><circle cx="1600.4" cy="445.7" r="6.75"/><circle cx="1600.4" cy="452.0" r="6.75"/><circle cx="1600.4" cy="463.4" r="6.75"/><circle cx="1600.4" cy="463.9" r="6.75"/><circle cx="1600.4" cy="480.8" r="6.75"/><circle cx="1600.4" cy="481.3" r="6.75"/><circle cx="1600.4" cy="481.8" r="6.75"/><circle cx="1600.4" cy="487.8" r="6.75"/><circle cx="1600.4" cy="494.5" r="6.75"/><circle cx="1600.4" cy="498.3" r="6.75"/><circle cx="1600.4" cy="498.8" r="6.75"/><circle cx="1600.4" cy="504.2" r="6.75"/><circle cx="1600.4" cy="831.6" r="6.75"/><circle cx="1600.4" cy="840.1" r="6.75"/><circle cx="1600.4" cy="842.1" r="6.75"/><circle cx="1600.4" cy="842.6" r="6.75"/><circle cx="1600.4" cy="844.3" r="6.75"/><circle cx="1600.4" cy="853.5" r="6.75"/><circle cx="1600.4" cy="861.9" r="6.75"/><circle cx="1600.4" cy="863.6" r="6.75"/><circle cx="1600.4" cy="864.1" r="6.75"/><circle cx="1600.4" cy="884.6" r="6.75"/><circle cx="1600.4" cy="887.1" r="6.75"/><circle cx="1600.4" cy="901.1" r="6.75"/><circle cx="1600.4" cy="915.9" r="6.75"/><circle cx="1600.4" cy="132.9" r="6.75"/><circle cx="1600.4" cy="312.4" r="6.75"/><circle cx="1600.4" cy="416.2" r="6.75"/></g>
<g fill="#4D4D4D" fill-opacity=".7" stroke="#4D4D4D" stroke-opacity=".7" stroke-width="1.5"><circle cx="1660.6" cy="438.9" r="6.75"/><circle cx="1660.6" cy="450.1" r="6.75"/><circle cx="1660.6" cy="457.2" r="6.75"/><circle cx="1660.6" cy="461.4" r="6.75"/><circle cx="1660.6" cy="465.4" r="6.75"/><circle cx="1660.6" cy="474.4" r="6.75"/><circle cx="1660.6" cy="477.7" r="6.75"/><circle cx="1660.6" cy="480.3" r="6.75"/><circle cx="1660.6" cy="480.8" r="6.75"/><circle cx="1660.6" cy="484.1" r="6.75"/><circle cx="1660.6" cy="490.0" r="6.75"/><circle cx="1660.6" cy="496.3" r="6.75"/><circle cx="1660.6" cy="505.7" r="6.75"/><circle cx="1660.6" cy="506.2" r="6.75"/><circle cx="1660.6" cy="506.7" r="6.75"/><circle cx="1660.6" cy="508.0" r="6.75"/><circle cx="1660.6" cy="837.2" r="6.75"/><circle cx="1660.6" cy="837.7" r="6.75"/><circle cx="1660.6" cy="838.2" r="6.75"/><circle cx="1660.6" cy="847.6" r="6.75"/><circle cx="1660.6" cy="850.1" r="6.75"/><circle cx="1660.6" cy="850.6" r="6.75"/><circle cx="1660.6" cy="851.8" r="6.75"/><circle cx="1660.6" cy="865.2" r="6.75"/><circle cx="1660.6" cy="874.4" r="6.75"/><circle cx="1660.6" cy="885.1" r="6.75"/><circle cx="1660.6" cy="896.3" r="6.75"/><circle cx="1660.6" cy="898.5" r="6.75"/><circle cx="1660.6" cy="899.0" r="6.75"/><circle cx="1660.6" cy="905.6" r="6.75"/><circle cx="1660.6" cy="916.0" r="6.75"/><circle cx="1660.6" cy="380.5" r="6.75"/><circle cx="1660.6" cy="402.9" r="6.75"/><circle cx="1660.6" cy="420.0" r="6.75"/><circle cx="1660.6" cy="423.8" r="6.75"/><circle cx="1660.6" cy="423.4" r="6.75"/></g>
<path d="M1440.0 668.4V692.6M1440.0 715.8V754.3" stroke="#333333" stroke-width="2.85"/>
<rect x="1412.9" y="692.6" width="54.2" height="23.1" fill="#414487" fill-opacity="0.58" stroke="none"/>
<rect x="1412.9" y="692.6" width="54.2" height="23.1" fill="none" stroke="#333333" stroke-width="2.85"/>
<path d="M1412.9 703.1H1467.1" stroke="#333333" stroke-width="5.4"/>
<path d="M1500.2 686.3V699.2M1500.2 720.1V754.3" stroke="#333333" stroke-width="2.85"/>
<rect x="1473.1" y="699.2" width="54.2" height="21.0" fill="#5FB8A3" fill-opacity="0.58" stroke="none"/>
<rect x="1473.1" y="699.2" width="54.2" height="21.0" fill="none" stroke="#333333" stroke-width="2.85"/>
<path d="M1473.1 706.4H1527.2" stroke="#333333" stroke-width="5.4"/>
<path d="M1600.4 509.0V627.2M1600.4 706.3V824.4" stroke="#333333" stroke-width="2.85"/>
<rect x="1573.4" y="627.2" width="54.2" height="79.2" fill="#414487" fill-opacity="0.58" stroke="none"/>
<rect x="1573.4" y="627.2" width="54.2" height="79.2" fill="none" stroke="#333333" stroke-width="2.85"/>
<path d="M1573.4 667.2H1627.5" stroke="#333333" stroke-width="5.4"/>
<path d="M1660.6 515.7V632.7M1660.6 711.0V829.5" stroke="#333333" stroke-width="2.85"/>
<rect x="1633.5" y="632.7" width="54.2" height="78.3" fill="#5FB8A3" fill-opacity="0.58" stroke="none"/>
<rect x="1633.5" y="632.7" width="54.2" height="78.3" fill="none" stroke="#333333" stroke-width="2.85"/>
<path d="M1633.5 675.6H1687.7" stroke="#333333" stroke-width="5.4"/>
<path d="M182.3 1305.1H504.6" stroke="#EBECEE" stroke-width="1.4"/>
<path d="M182.3 1495.7H504.6" stroke="#EBECEE" stroke-width="1.4"/>
<path d="M182.3 1686.3H504.6" stroke="#EBECEE" stroke-width="1.4"/>
<path d="M182.3 1876.9H504.6" stroke="#EBECEE" stroke-width="1.4"/>
<path d="M182.3 1209.8H504.6" stroke="#EBECEE" stroke-width="2.8"/>
<path d="M182.3 1400.4H504.6" stroke="#EBECEE" stroke-width="2.8"/>
<path d="M182.3 1591.0H504.6" stroke="#EBECEE" stroke-width="2.8"/>
<path d="M182.3 1781.6H504.6" stroke="#EBECEE" stroke-width="2.8"/>
<path d="M182.3 1972.2H504.6" stroke="#EBECEE" stroke-width="2.8"/>
<path d="M270.2 1172.4V2010.4" stroke="#EBECEE" stroke-width="2.8"/>
<path d="M416.7 1172.4V2010.4" stroke="#EBECEE" stroke-width="2.8"/>
<g fill="#4D4D4D" fill-opacity=".7" stroke="#4D4D4D" stroke-opacity=".7" stroke-width="1.5"><circle cx="242.7" cy="1403.3" r="6.75"/><circle cx="242.7" cy="1406.4" r="6.75"/><circle cx="242.7" cy="1409.0" r="6.75"/><circle cx="242.7" cy="1412.5" r="6.75"/><circle cx="242.7" cy="1415.6" r="6.75"/><circle cx="242.7" cy="1417.4" r="6.75"/><circle cx="242.7" cy="1420.3" r="6.75"/><circle cx="242.7" cy="1425.0" r="6.75"/><circle cx="242.7" cy="1426.8" r="6.75"/><circle cx="242.7" cy="1430.3" r="6.75"/><circle cx="242.7" cy="1425.8" r="6.75"/><circle cx="242.7" cy="1445.2" r="6.75"/><circle cx="242.7" cy="1466.8" r="6.75"/><circle cx="242.7" cy="1467.6" r="6.75"/><circle cx="242.7" cy="1468.4" r="6.75"/><circle cx="242.7" cy="1503.3" r="6.75"/><circle cx="242.7" cy="1506.2" r="6.75"/><circle cx="242.7" cy="1510.4" r="6.75"/><circle cx="242.7" cy="1512.7" r="6.75"/><circle cx="242.7" cy="1523.5" r="6.75"/><circle cx="242.7" cy="1524.3" r="6.75"/><circle cx="242.7" cy="1544.6" r="6.75"/><circle cx="242.7" cy="1564.8" r="6.75"/><circle cx="242.7" cy="1665.3" r="6.75"/></g>
<g fill="#4D4D4D" fill-opacity=".7" stroke="#4D4D4D" stroke-opacity=".7" stroke-width="1.5"><circle cx="297.7" cy="1343.9" r="6.75"/><circle cx="297.7" cy="1348.5" r="6.75"/><circle cx="297.7" cy="1350.6" r="6.75"/><circle cx="297.7" cy="1353.2" r="6.75"/><circle cx="297.7" cy="1358.6" r="6.75"/><circle cx="297.7" cy="1360.6" r="6.75"/><circle cx="297.7" cy="1366.1" r="6.75"/><circle cx="297.7" cy="1367.3" r="6.75"/><circle cx="297.7" cy="1372.7" r="6.75"/><circle cx="297.7" cy="1376.3" r="6.75"/><circle cx="297.7" cy="1379.0" r="6.75"/><circle cx="297.7" cy="1377.4" r="6.75"/><circle cx="297.7" cy="1393.9" r="6.75"/><circle cx="297.7" cy="1394.7" r="6.75"/><circle cx="297.7" cy="1402.0" r="6.75"/><circle cx="297.7" cy="1405.9" r="6.75"/><circle cx="297.7" cy="1409.7" r="6.75"/><circle cx="297.7" cy="1411.9" r="6.75"/><circle cx="297.7" cy="1416.2" r="6.75"/><circle cx="297.7" cy="1418.7" r="6.75"/><circle cx="297.7" cy="1423.3" r="6.75"/><circle cx="297.7" cy="1426.5" r="6.75"/><circle cx="297.7" cy="1429.0" r="6.75"/><circle cx="297.7" cy="1410.5" r="6.75"/><circle cx="297.7" cy="1457.3" r="6.75"/><circle cx="297.7" cy="1470.8" r="6.75"/><circle cx="297.7" cy="1507.3" r="6.75"/><circle cx="297.7" cy="1518.7" r="6.75"/><circle cx="297.7" cy="1519.5" r="6.75"/><circle cx="297.7" cy="1535.7" r="6.75"/><circle cx="297.7" cy="1563.5" r="6.75"/><circle cx="297.7" cy="1567.5" r="6.75"/><circle cx="297.7" cy="1571.4" r="6.75"/><circle cx="297.7" cy="1574.3" r="6.75"/><circle cx="297.7" cy="1583.2" r="6.75"/></g>
<g fill="#4D4D4D" fill-opacity=".7" stroke="#4D4D4D" stroke-opacity=".7" stroke-width="1.5"><circle cx="389.2" cy="1534.3" r="6.75"/><circle cx="389.2" cy="1541.0" r="6.75"/><circle cx="389.2" cy="1547.8" r="6.75"/><circle cx="389.2" cy="1558.0" r="6.75"/><circle cx="389.2" cy="1577.0" r="6.75"/><circle cx="389.2" cy="1580.9" r="6.75"/><circle cx="389.2" cy="1583.5" r="6.75"/><circle cx="389.2" cy="1586.6" r="6.75"/><circle cx="389.2" cy="1589.5" r="6.75"/><circle cx="389.2" cy="1592.2" r="6.75"/><circle cx="389.2" cy="1596.0" r="6.75"/><circle cx="389.2" cy="1578.3" r="6.75"/><circle cx="389.2" cy="1601.3" r="6.75"/><circle cx="389.2" cy="1608.0" r="6.75"/><circle cx="389.2" cy="1637.7" r="6.75"/><circle cx="389.2" cy="1641.0" r="6.75"/><circle cx="389.2" cy="1641.8" r="6.75"/><circle cx="389.2" cy="1658.0" r="6.75"/><circle cx="389.2" cy="1679.6" r="6.75"/><circle cx="389.2" cy="1680.4" r="6.75"/><circle cx="389.2" cy="1685.6" r="6.75"/><circle cx="389.2" cy="1742.3" r="6.75"/><circle cx="389.2" cy="1743.1" r="6.75"/><circle cx="389.2" cy="1743.9" r="6.75"/><circle cx="389.2" cy="1867.3" r="6.75"/><circle cx="389.2" cy="1925.4" r="6.75"/><circle cx="389.2" cy="1960.0" r="6.75"/></g>
<g fill="#4D4D4D" fill-opacity=".7" stroke="#4D4D4D" stroke-opacity=".7" stroke-width="1.5"><circle cx="444.2" cy="1485.7" r="6.75"/><circle cx="444.2" cy="1489.5" r="6.75"/><circle cx="444.2" cy="1491.7" r="6.75"/><circle cx="444.2" cy="1496.7" r="6.75"/><circle cx="444.2" cy="1499.2" r="6.75"/><circle cx="444.2" cy="1500.1" r="6.75"/><circle cx="444.2" cy="1510.0" r="6.75"/><circle cx="444.2" cy="1520.3" r="6.75"/><circle cx="444.2" cy="1530.3" r="6.75"/><circle cx="444.2" cy="1539.7" r="6.75"/><circle cx="444.2" cy="1544.6" r="6.75"/><circle cx="444.2" cy="1545.4" r="6.75"/><circle cx="444.2" cy="1550.5" r="6.75"/><circle cx="444.2" cy="1556.0" r="6.75"/><circle cx="444.2" cy="1558.3" r="6.75"/><circle cx="444.2" cy="1562.3" r="6.75"/><circle cx="444.2" cy="1564.6" r="6.75"/><circle cx="444.2" cy="1566.9" r="6.75"/><circle cx="444.2" cy="1569.3" r="6.75"/><circle cx="444.2" cy="1573.0" r="6.75"/><circle cx="444.2" cy="1564.8" r="6.75"/><circle cx="444.2" cy="1581.0" r="6.75"/><circle cx="444.2" cy="1583.8" r="6.75"/><circle cx="444.2" cy="1586.3" r="6.75"/><circle cx="444.2" cy="1589.6" r="6.75"/><circle cx="444.2" cy="1593.6" r="6.75"/><circle cx="444.2" cy="1596.0" r="6.75"/><circle cx="444.2" cy="1581.9" r="6.75"/><circle cx="444.2" cy="1627.0" r="6.75"/><circle cx="444.2" cy="1629.7" r="6.75"/><circle cx="444.2" cy="1633.2" r="6.75"/><circle cx="444.2" cy="1636.1" r="6.75"/><circle cx="444.2" cy="1639.0" r="6.75"/><circle cx="444.2" cy="1633.9" r="6.75"/><circle cx="444.2" cy="1671.0" r="6.75"/><circle cx="444.2" cy="1734.4" r="6.75"/><circle cx="444.2" cy="1804.7" r="6.75"/></g>
<path d="M242.7 1221.5V1254.8M242.7 1312.8V1402.0" stroke="#333333" stroke-width="2.85"/>
<rect x="218.0" y="1254.8" width="49.4" height="58.0" fill="#414487" fill-opacity="0.58" stroke="none"/>
<rect x="218.0" y="1254.8" width="49.4" height="58.0" fill="none" stroke="#333333" stroke-width="2.85"/>
<path d="M218.0 1277.2H267.5" stroke="#333333" stroke-width="5.4"/>
<path d="M297.7 1217.7V1242.6M297.7 1283.1V1342.5" stroke="#333333" stroke-width="2.85"/>
<rect x="272.9" y="1242.6" width="49.4" height="40.5" fill="#5FB8A3" fill-opacity="0.58" stroke="none"/>
<rect x="272.9" y="1242.6" width="49.4" height="40.5" fill="none" stroke="#333333" stroke-width="2.85"/>
<path d="M272.9 1256.9H322.4" stroke="#333333" stroke-width="5.4"/>
<path d="M389.2 1229.9V1279.1M389.2 1379.0V1530.3" stroke="#333333" stroke-width="2.85"/>
<rect x="364.5" y="1279.1" width="49.4" height="99.9" fill="#414487" fill-opacity="0.58" stroke="none"/>
<rect x="364.5" y="1279.1" width="49.4" height="99.9" fill="none" stroke="#333333" stroke-width="2.85"/>
<path d="M364.5 1310.9H414.0" stroke="#333333" stroke-width="5.4"/>
<path d="M444.2 1229.9V1276.9M444.2 1359.5V1484.4" stroke="#333333" stroke-width="2.85"/>
<rect x="419.4" y="1276.9" width="49.4" height="82.6" fill="#5FB8A3" fill-opacity="0.58" stroke="none"/>
<rect x="419.4" y="1276.9" width="49.4" height="82.6" fill="none" stroke="#333333" stroke-width="2.85"/>
<path d="M419.4 1302.0H468.9" stroke="#333333" stroke-width="5.4"/>
<path d="M589.2 1305.1H911.4" stroke="#EBECEE" stroke-width="1.4"/>
<path d="M589.2 1495.7H911.4" stroke="#EBECEE" stroke-width="1.4"/>
<path d="M589.2 1686.3H911.4" stroke="#EBECEE" stroke-width="1.4"/>
<path d="M589.2 1876.9H911.4" stroke="#EBECEE" stroke-width="1.4"/>
<path d="M589.2 1209.8H911.4" stroke="#EBECEE" stroke-width="2.8"/>
<path d="M589.2 1400.4H911.4" stroke="#EBECEE" stroke-width="2.8"/>
<path d="M589.2 1591.0H911.4" stroke="#EBECEE" stroke-width="2.8"/>
<path d="M589.2 1781.6H911.4" stroke="#EBECEE" stroke-width="2.8"/>
<path d="M589.2 1972.2H911.4" stroke="#EBECEE" stroke-width="2.8"/>
<path d="M677.1 1172.4V2010.4" stroke="#EBECEE" stroke-width="2.8"/>
<path d="M823.6 1172.4V2010.4" stroke="#EBECEE" stroke-width="2.8"/>
<g fill="#4D4D4D" fill-opacity=".7" stroke="#4D4D4D" stroke-opacity=".7" stroke-width="1.5"><circle cx="649.6" cy="1437.0" r="6.75"/><circle cx="649.6" cy="1440.3" r="6.75"/><circle cx="649.6" cy="1443.6" r="6.75"/><circle cx="649.6" cy="1448.8" r="6.75"/><circle cx="649.6" cy="1451.1" r="6.75"/><circle cx="649.6" cy="1455.4" r="6.75"/><circle cx="649.6" cy="1459.8" r="6.75"/><circle cx="649.6" cy="1464.2" r="6.75"/><circle cx="649.6" cy="1466.8" r="6.75"/><circle cx="649.6" cy="1470.4" r="6.75"/><circle cx="649.6" cy="1476.5" r="6.75"/><circle cx="649.6" cy="1478.8" r="6.75"/><circle cx="649.6" cy="1484.4" r="6.75"/><circle cx="649.6" cy="1487.0" r="6.75"/><circle cx="649.6" cy="1460.4" r="6.75"/><circle cx="649.6" cy="1487.8" r="6.75"/><circle cx="649.6" cy="1494.3" r="6.75"/><circle cx="649.6" cy="1502.6" r="6.75"/><circle cx="649.6" cy="1530.1" r="6.75"/><circle cx="649.6" cy="1579.6" r="6.75"/><circle cx="649.6" cy="1804.3" r="6.75"/></g>
<g fill="#4D4D4D" fill-opacity=".7" stroke="#4D4D4D" stroke-opacity=".7" stroke-width="1.5"><circle cx="704.6" cy="1384.4" r="6.75"/><circle cx="704.6" cy="1391.5" r="6.75"/><circle cx="704.6" cy="1401.1" r="6.75"/><circle cx="704.6" cy="1411.4" r="6.75"/><circle cx="704.6" cy="1412.2" r="6.75"/><circle cx="704.6" cy="1423.3" r="6.75"/><circle cx="704.6" cy="1432.9" r="6.75"/><circle cx="704.6" cy="1449.6" r="6.75"/><circle cx="704.6" cy="1469.9" r="6.75"/><circle cx="704.6" cy="1482.3" r="6.75"/><circle cx="704.6" cy="1486.4" r="6.75"/><circle cx="704.6" cy="1507.0" r="6.75"/><circle cx="704.6" cy="1514.6" r="6.75"/><circle cx="704.6" cy="1582.3" r="6.75"/></g>
<g fill="#4D4D4D" fill-opacity=".7" stroke="#4D4D4D" stroke-opacity=".7" stroke-width="1.5"><circle cx="796.1" cy="1540.0" r="6.75"/><circle cx="796.1" cy="1544.0" r="6.75"/><circle cx="796.1" cy="1547.6" r="6.75"/><circle cx="796.1" cy="1551.5" r="6.75"/><circle cx="796.1" cy="1556.0" r="6.75"/><circle cx="796.1" cy="1558.6" r="6.75"/><circle cx="796.1" cy="1562.1" r="6.75"/><circle cx="796.1" cy="1566.0" r="6.75"/><circle cx="796.1" cy="1552.9" r="6.75"/><circle cx="796.1" cy="1584.1" r="6.75"/><circle cx="796.1" cy="1589.0" r="6.75"/><circle cx="796.1" cy="1606.5" r="6.75"/><circle cx="796.1" cy="1624.8" r="6.75"/><circle cx="796.1" cy="1632.6" r="6.75"/><circle cx="796.1" cy="1633.4" r="6.75"/><circle cx="796.1" cy="1634.2" r="6.75"/><circle cx="796.1" cy="1638.0" r="6.75"/><circle cx="796.1" cy="1658.4" r="6.75"/><circle cx="796.1" cy="1780.1" r="6.75"/><circle cx="796.1" cy="1893.2" r="6.75"/><circle cx="796.1" cy="1925.5" r="6.75"/></g>
<g fill="#4D4D4D" fill-opacity=".7" stroke="#4D4D4D" stroke-opacity=".7" stroke-width="1.5"><circle cx="851.1" cy="1546.0" r="6.75"/><circle cx="851.1" cy="1552.0" r="6.75"/><circle cx="851.1" cy="1559.4" r="6.75"/><circle cx="851.1" cy="1560.2" r="6.75"/><circle cx="851.1" cy="1578.2" r="6.75"/><circle cx="851.1" cy="1579.0" r="6.75"/><circle cx="851.1" cy="1579.8" r="6.75"/><circle cx="851.1" cy="1594.9" r="6.75"/><circle cx="851.1" cy="1595.7" r="6.75"/><circle cx="851.1" cy="1596.5" r="6.75"/><circle cx="851.1" cy="1611.9" r="6.75"/><circle cx="851.1" cy="1632.9" r="6.75"/><circle cx="851.1" cy="1643.6" r="6.75"/><circle cx="851.1" cy="1644.4" r="6.75"/><circle cx="851.1" cy="1670.3" r="6.75"/><circle cx="851.1" cy="1674.3" r="6.75"/><circle cx="851.1" cy="1714.2" r="6.75"/><circle cx="851.1" cy="1726.8" r="6.75"/><circle cx="851.1" cy="1786.8" r="6.75"/><circle cx="851.1" cy="1813.0" r="6.75"/><circle cx="851.1" cy="1813.8" r="6.75"/><circle cx="851.1" cy="1864.4" r="6.75"/><circle cx="851.1" cy="1875.7" r="6.75"/></g>
<path d="M649.6 1234.3V1289.0M649.6 1346.6V1434.5" stroke="#333333" stroke-width="2.85"/>
<rect x="624.9" y="1289.0" width="49.4" height="57.6" fill="#414487" fill-opacity="0.58" stroke="none"/>
<rect x="624.9" y="1289.0" width="49.4" height="57.6" fill="none" stroke="#333333" stroke-width="2.85"/>
<path d="M624.9 1316.3H674.4" stroke="#333333" stroke-width="5.4"/>
<path d="M704.6 1218.8V1249.6M704.6 1298.8V1374.8" stroke="#333333" stroke-width="2.85"/>
<rect x="679.8" y="1249.6" width="49.4" height="49.2" fill="#5FB8A3" fill-opacity="0.58" stroke="none"/>
<rect x="679.8" y="1249.6" width="49.4" height="49.2" fill="none" stroke="#333333" stroke-width="2.85"/>
<path d="M679.8 1273.7H729.3" stroke="#333333" stroke-width="5.4"/>
<path d="M796.1 1236.7V1315.3M796.1 1403.3V1532.5" stroke="#333333" stroke-width="2.85"/>
<rect x="771.4" y="1315.3" width="49.4" height="88.0" fill="#414487" fill-opacity="0.58" stroke="none"/>
<rect x="771.4" y="1315.3" width="49.4" height="88.0" fill="none" stroke="#333333" stroke-width="2.85"/>
<path d="M771.4 1354.0H820.9" stroke="#333333" stroke-width="5.4"/>
<path d="M851.1 1231.4V1299.7M851.1 1395.6V1539.7" stroke="#333333" stroke-width="2.85"/>
<rect x="826.3" y="1299.7" width="49.4" height="95.9" fill="#5FB8A3" fill-opacity="0.58" stroke="none"/>
<rect x="826.3" y="1299.7" width="49.4" height="95.9" fill="none" stroke="#333333" stroke-width="2.85"/>
<path d="M826.3 1343.0H875.8" stroke="#333333" stroke-width="5.4"/>
<path d="M996.6 1305.1H1318.5" stroke="#EBECEE" stroke-width="1.4"/>
<path d="M996.6 1495.7H1318.5" stroke="#EBECEE" stroke-width="1.4"/>
<path d="M996.6 1686.3H1318.5" stroke="#EBECEE" stroke-width="1.4"/>
<path d="M996.6 1876.9H1318.5" stroke="#EBECEE" stroke-width="1.4"/>
<path d="M996.6 1209.8H1318.5" stroke="#EBECEE" stroke-width="2.8"/>
<path d="M996.6 1400.4H1318.5" stroke="#EBECEE" stroke-width="2.8"/>
<path d="M996.6 1591.0H1318.5" stroke="#EBECEE" stroke-width="2.8"/>
<path d="M996.6 1781.6H1318.5" stroke="#EBECEE" stroke-width="2.8"/>
<path d="M996.6 1972.2H1318.5" stroke="#EBECEE" stroke-width="2.8"/>
<path d="M1084.5 1172.4V2010.4" stroke="#EBECEE" stroke-width="2.8"/>
<path d="M1231.0 1172.4V2010.4" stroke="#EBECEE" stroke-width="2.8"/>
<g fill="#4D4D4D" fill-opacity=".7" stroke="#4D4D4D" stroke-opacity=".7" stroke-width="1.5"><circle cx="1057.0" cy="1391.5" r="6.75"/><circle cx="1057.0" cy="1394.9" r="6.75"/><circle cx="1057.0" cy="1399.2" r="6.75"/><circle cx="1057.0" cy="1403.4" r="6.75"/><circle cx="1057.0" cy="1408.8" r="6.75"/><circle cx="1057.0" cy="1413.4" r="6.75"/><circle cx="1057.0" cy="1415.6" r="6.75"/><circle cx="1057.0" cy="1419.9" r="6.75"/><circle cx="1057.0" cy="1424.6" r="6.75"/><circle cx="1057.0" cy="1427.4" r="6.75"/><circle cx="1057.0" cy="1433.0" r="6.75"/><circle cx="1057.0" cy="1436.2" r="6.75"/><circle cx="1057.0" cy="1440.4" r="6.75"/><circle cx="1057.0" cy="1446.1" r="6.75"/><circle cx="1057.0" cy="1449.3" r="6.75"/><circle cx="1057.0" cy="1452.5" r="6.75"/><circle cx="1057.0" cy="1457.2" r="6.75"/><circle cx="1057.0" cy="1461.6" r="6.75"/><circle cx="1057.0" cy="1466.8" r="6.75"/><circle cx="1057.0" cy="1468.2" r="6.75"/><circle cx="1057.0" cy="1473.3" r="6.75"/><circle cx="1057.0" cy="1478.2" r="6.75"/><circle cx="1057.0" cy="1481.3" r="6.75"/><circle cx="1057.0" cy="1486.0" r="6.75"/><circle cx="1057.0" cy="1414.0" r="6.75"/><circle cx="1057.0" cy="1434.1" r="6.75"/><circle cx="1057.0" cy="1468.6" r="6.75"/><circle cx="1057.0" cy="1434.7" r="6.75"/><circle cx="1057.0" cy="1511.0" r="6.75"/><circle cx="1057.0" cy="1527.7" r="6.75"/><circle cx="1057.0" cy="1528.5" r="6.75"/><circle cx="1057.0" cy="1564.8" r="6.75"/><circle cx="1057.0" cy="1578.8" r="6.75"/><circle cx="1057.0" cy="1581.7" r="6.75"/><circle cx="1057.0" cy="1582.5" r="6.75"/><circle cx="1057.0" cy="1679.2" r="6.75"/><circle cx="1057.0" cy="1794.1" r="6.75"/><circle cx="1057.0" cy="1807.0" r="6.75"/></g>
<g fill="#4D4D4D" fill-opacity=".7" stroke="#4D4D4D" stroke-opacity=".7" stroke-width="1.5"><circle cx="1112.0" cy="1406.0" r="6.75"/><circle cx="1112.0" cy="1408.6" r="6.75"/><circle cx="1112.0" cy="1414.0" r="6.75"/><circle cx="1112.0" cy="1418.4" r="6.75"/><circle cx="1112.0" cy="1421.1" r="6.75"/><circle cx="1112.0" cy="1424.8" r="6.75"/><circle cx="1112.0" cy="1430.3" r="6.75"/><circle cx="1112.0" cy="1432.6" r="6.75"/><circle cx="1112.0" cy="1436.4" r="6.75"/><circle cx="1112.0" cy="1441.0" r="6.75"/><circle cx="1112.0" cy="1445.6" r="6.75"/><circle cx="1112.0" cy="1449.0" r="6.75"/><circle cx="1112.0" cy="1426.2" r="6.75"/><circle cx="1112.0" cy="1446.9" r="6.75"/><circle cx="1112.0" cy="1461.0" r="6.75"/><circle cx="1112.0" cy="1465.3" r="6.75"/><circle cx="1112.0" cy="1467.1" r="6.75"/><circle cx="1112.0" cy="1470.9" r="6.75"/><circle cx="1112.0" cy="1475.1" r="6.75"/><circle cx="1112.0" cy="1479.2" r="6.75"/><circle cx="1112.0" cy="1481.5" r="6.75"/><circle cx="1112.0" cy="1484.4" r="6.75"/><circle cx="1112.0" cy="1487.6" r="6.75"/><circle cx="1112.0" cy="1492.0" r="6.75"/><circle cx="1112.0" cy="1471.4" r="6.75"/><circle cx="1112.0" cy="1492.3" r="6.75"/><circle cx="1112.0" cy="1495.5" r="6.75"/><circle cx="1112.0" cy="1505.7" r="6.75"/><circle cx="1112.0" cy="1518.0" r="6.75"/><circle cx="1112.0" cy="1522.9" r="6.75"/><circle cx="1112.0" cy="1526.4" r="6.75"/><circle cx="1112.0" cy="1530.0" r="6.75"/><circle cx="1112.0" cy="1533.7" r="6.75"/><circle cx="1112.0" cy="1548.0" r="6.75"/><circle cx="1112.0" cy="1554.0" r="6.75"/><circle cx="1112.0" cy="1554.8" r="6.75"/><circle cx="1112.0" cy="1556.7" r="6.75"/><circle cx="1112.0" cy="1618.6" r="6.75"/><circle cx="1112.0" cy="1639.6" r="6.75"/><circle cx="1112.0" cy="1654.9" r="6.75"/><circle cx="1112.0" cy="1667.1" r="6.75"/><circle cx="1112.0" cy="1707.4" r="6.75"/><circle cx="1112.0" cy="1712.8" r="6.75"/><circle cx="1112.0" cy="1713.6" r="6.75"/><circle cx="1112.0" cy="1714.4" r="6.75"/><circle cx="1112.0" cy="1755.3" r="6.75"/></g>
<g fill="#4D4D4D" fill-opacity=".7" stroke="#4D4D4D" stroke-opacity=".7" stroke-width="1.5"><circle cx="1203.5" cy="1578.0" r="6.75"/><circle cx="1203.5" cy="1580.8" r="6.75"/><circle cx="1203.5" cy="1585.1" r="6.75"/><circle cx="1203.5" cy="1590.3" r="6.75"/><circle cx="1203.5" cy="1592.8" r="6.75"/><circle cx="1203.5" cy="1596.8" r="6.75"/><circle cx="1203.5" cy="1600.9" r="6.75"/><circle cx="1203.5" cy="1604.7" r="6.75"/><circle cx="1203.5" cy="1608.5" r="6.75"/><circle cx="1203.5" cy="1613.7" r="6.75"/><circle cx="1203.5" cy="1615.5" r="6.75"/><circle cx="1203.5" cy="1619.0" r="6.75"/><circle cx="1203.5" cy="1625.3" r="6.75"/><circle cx="1203.5" cy="1628.0" r="6.75"/><circle cx="1203.5" cy="1609.2" r="6.75"/><circle cx="1203.5" cy="1610.3" r="6.75"/><circle cx="1203.5" cy="1653.6" r="6.75"/><circle cx="1203.5" cy="1656.2" r="6.75"/><circle cx="1203.5" cy="1659.5" r="6.75"/><circle cx="1203.5" cy="1662.2" r="6.75"/><circle cx="1203.5" cy="1665.3" r="6.75"/><circle cx="1203.5" cy="1667.1" r="6.75"/><circle cx="1203.5" cy="1657.5" r="6.75"/><circle cx="1203.5" cy="1693.2" r="6.75"/><circle cx="1203.5" cy="1701.5" r="6.75"/><circle cx="1203.5" cy="1706.9" r="6.75"/><circle cx="1203.5" cy="1724.4" r="6.75"/><circle cx="1203.5" cy="1754.5" r="6.75"/><circle cx="1203.5" cy="1767.2" r="6.75"/><circle cx="1203.5" cy="1776.9" r="6.75"/><circle cx="1203.5" cy="1789.0" r="6.75"/><circle cx="1203.5" cy="1811.9" r="6.75"/><circle cx="1203.5" cy="1841.5" r="6.75"/><circle cx="1203.5" cy="1864.9" r="6.75"/><circle cx="1203.5" cy="1932.2" r="6.75"/><circle cx="1203.5" cy="1948.3" r="6.75"/><circle cx="1203.5" cy="2030.4" r="6.75"/></g>
<g fill="#4D4D4D" fill-opacity=".7" stroke="#4D4D4D" stroke-opacity=".7" stroke-width="1.5"><circle cx="1258.5" cy="1606.0" r="6.75"/><circle cx="1258.5" cy="1610.0" r="6.75"/><circle cx="1258.5" cy="1611.2" r="6.75"/><circle cx="1258.5" cy="1615.0" r="6.75"/><circle cx="1258.5" cy="1632.6" r="6.75"/><circle cx="1258.5" cy="1633.4" r="6.75"/><circle cx="1258.5" cy="1634.2" r="6.75"/><circle cx="1258.5" cy="1648.8" r="6.75"/><circle cx="1258.5" cy="1653.6" r="6.75"/><circle cx="1258.5" cy="1675.7" r="6.75"/><circle cx="1258.5" cy="1684.0" r="6.75"/><circle cx="1258.5" cy="1694.0" r="6.75"/><circle cx="1258.5" cy="1694.8" r="6.75"/><circle cx="1258.5" cy="1699.4" r="6.75"/><circle cx="1258.5" cy="1712.0" r="6.75"/><circle cx="1258.5" cy="1723.6" r="6.75"/><circle cx="1258.5" cy="1733.8" r="6.75"/><circle cx="1258.5" cy="1734.6" r="6.75"/><circle cx="1258.5" cy="1745.1" r="6.75"/><circle cx="1258.5" cy="1745.9" r="6.75"/><circle cx="1258.5" cy="1754.5" r="6.75"/><circle cx="1258.5" cy="1761.3" r="6.75"/><circle cx="1258.5" cy="1762.1" r="6.75"/><circle cx="1258.5" cy="1765.3" r="6.75"/><circle cx="1258.5" cy="1776.9" r="6.75"/><circle cx="1258.5" cy="1799.0" r="6.75"/><circle cx="1258.5" cy="1810.3" r="6.75"/></g>
<path d="M1057.0 1220.2V1251.9M1057.0 1306.5V1390.3" stroke="#333333" stroke-width="2.85"/>
<rect x="1032.3" y="1251.9" width="49.4" height="54.6" fill="#414487" fill-opacity="0.58" stroke="none"/>
<rect x="1032.3" y="1251.9" width="49.4" height="54.6" fill="none" stroke="#333333" stroke-width="2.85"/>
<path d="M1032.3 1274.9H1081.8" stroke="#333333" stroke-width="5.4"/>
<path d="M1112.0 1217.8V1245.5M1112.0 1305.5V1399.9" stroke="#333333" stroke-width="2.85"/>
<rect x="1087.2" y="1245.5" width="49.4" height="60.0" fill="#5FB8A3" fill-opacity="0.58" stroke="none"/>
<rect x="1087.2" y="1245.5" width="49.4" height="60.0" fill="none" stroke="#333333" stroke-width="2.85"/>
<path d="M1087.2 1269.7H1136.7" stroke="#333333" stroke-width="5.4"/>
<path d="M1203.5 1228.3V1284.7M1203.5 1400.2V1574.2" stroke="#333333" stroke-width="2.85"/>
<rect x="1178.8" y="1284.7" width="49.4" height="115.5" fill="#414487" fill-opacity="0.58" stroke="none"/>
<rect x="1178.8" y="1284.7" width="49.4" height="115.5" fill="none" stroke="#333333" stroke-width="2.85"/>
<path d="M1178.8 1332.5H1228.3" stroke="#333333" stroke-width="5.4"/>
<path d="M1258.5 1224.5V1280.1M1258.5 1407.6V1593.8" stroke="#333333" stroke-width="2.85"/>
<rect x="1233.7" y="1280.1" width="49.4" height="127.5" fill="#5FB8A3" fill-opacity="0.58" stroke="none"/>
<rect x="1233.7" y="1280.1" width="49.4" height="127.5" fill="none" stroke="#333333" stroke-width="2.85"/>
<path d="M1233.7 1326.3H1283.2" stroke="#333333" stroke-width="5.4"/>
<path d="M1403.5 1305.1H1725.6" stroke="#EBECEE" stroke-width="1.4"/>
<path d="M1403.5 1495.7H1725.6" stroke="#EBECEE" stroke-width="1.4"/>
<path d="M1403.5 1686.3H1725.6" stroke="#EBECEE" stroke-width="1.4"/>
<path d="M1403.5 1876.9H1725.6" stroke="#EBECEE" stroke-width="1.4"/>
<path d="M1403.5 1209.8H1725.6" stroke="#EBECEE" stroke-width="2.8"/>
<path d="M1403.5 1400.4H1725.6" stroke="#EBECEE" stroke-width="2.8"/>
<path d="M1403.5 1591.0H1725.6" stroke="#EBECEE" stroke-width="2.8"/>
<path d="M1403.5 1781.6H1725.6" stroke="#EBECEE" stroke-width="2.8"/>
<path d="M1403.5 1972.2H1725.6" stroke="#EBECEE" stroke-width="2.8"/>
<path d="M1491.4 1172.4V2010.4" stroke="#EBECEE" stroke-width="2.8"/>
<path d="M1637.9 1172.4V2010.4" stroke="#EBECEE" stroke-width="2.8"/>
<g fill="#4D4D4D" fill-opacity=".7" stroke="#4D4D4D" stroke-opacity=".7" stroke-width="1.5"><circle cx="1463.9" cy="1493.1" r="6.75"/><circle cx="1463.9" cy="1527.2" r="6.75"/><circle cx="1463.9" cy="1528.0" r="6.75"/><circle cx="1463.9" cy="1695.0" r="6.75"/><circle cx="1463.9" cy="1699.8" r="6.75"/><circle cx="1463.9" cy="1703.0" r="6.75"/><circle cx="1463.9" cy="1706.2" r="6.75"/><circle cx="1463.9" cy="1712.1" r="6.75"/><circle cx="1463.9" cy="1714.8" r="6.75"/><circle cx="1463.9" cy="1717.7" r="6.75"/><circle cx="1463.9" cy="1722.9" r="6.75"/><circle cx="1463.9" cy="1725.9" r="6.75"/><circle cx="1463.9" cy="1731.0" r="6.75"/><circle cx="1463.9" cy="1734.3" r="6.75"/><circle cx="1463.9" cy="1737.7" r="6.75"/><circle cx="1463.9" cy="1743.1" r="6.75"/><circle cx="1463.9" cy="1745.7" r="6.75"/><circle cx="1463.9" cy="1752.2" r="6.75"/><circle cx="1463.9" cy="1753.9" r="6.75"/><circle cx="1463.9" cy="1758.0" r="6.75"/><circle cx="1463.9" cy="1763.0" r="6.75"/><circle cx="1463.9" cy="1763.7" r="6.75"/><circle cx="1463.9" cy="1700.4" r="6.75"/><circle cx="1463.9" cy="1717.9" r="6.75"/><circle cx="1463.9" cy="1791.0" r="6.75"/><circle cx="1463.9" cy="1793.2" r="6.75"/><circle cx="1463.9" cy="1796.5" r="6.75"/><circle cx="1463.9" cy="1799.5" r="6.75"/><circle cx="1463.9" cy="1803.8" r="6.75"/><circle cx="1463.9" cy="1805.2" r="6.75"/><circle cx="1463.9" cy="1809.9" r="6.75"/><circle cx="1463.9" cy="1812.0" r="6.75"/><circle cx="1463.9" cy="1810.0" r="6.75"/><circle cx="1463.9" cy="1804.2" r="6.75"/><circle cx="1463.9" cy="1819.1" r="6.75"/><circle cx="1463.9" cy="1825.9" r="6.75"/><circle cx="1463.9" cy="1887.8" r="6.75"/><circle cx="1463.9" cy="1888.6" r="6.75"/></g>
<g fill="#4D4D4D" fill-opacity=".7" stroke="#4D4D4D" stroke-opacity=".7" stroke-width="1.5"><circle cx="1518.9" cy="1695.0" r="6.75"/><circle cx="1518.9" cy="1698.3" r="6.75"/><circle cx="1518.9" cy="1700.5" r="6.75"/><circle cx="1518.9" cy="1704.5" r="6.75"/><circle cx="1518.9" cy="1708.9" r="6.75"/><circle cx="1518.9" cy="1712.2" r="6.75"/><circle cx="1518.9" cy="1715.3" r="6.75"/><circle cx="1518.9" cy="1717.0" r="6.75"/><circle cx="1518.9" cy="1720.3" r="6.75"/><circle cx="1518.9" cy="1724.5" r="6.75"/><circle cx="1518.9" cy="1726.8" r="6.75"/><circle cx="1518.9" cy="1731.6" r="6.75"/><circle cx="1518.9" cy="1734.5" r="6.75"/><circle cx="1518.9" cy="1737.7" r="6.75"/><circle cx="1518.9" cy="1741.0" r="6.75"/><circle cx="1518.9" cy="1698.9" r="6.75"/><circle cx="1518.9" cy="1735.3" r="6.75"/><circle cx="1518.9" cy="1732.0" r="6.75"/><circle cx="1518.9" cy="1767.5" r="6.75"/><circle cx="1518.9" cy="1784.1" r="6.75"/><circle cx="1518.9" cy="1784.9" r="6.75"/><circle cx="1518.9" cy="1788.0" r="6.75"/><circle cx="1518.9" cy="1794.4" r="6.75"/><circle cx="1518.9" cy="1808.4" r="6.75"/><circle cx="1518.9" cy="1819.1" r="6.75"/><circle cx="1518.9" cy="1819.9" r="6.75"/><circle cx="1518.9" cy="1822.0" r="6.75"/><circle cx="1518.9" cy="1839.9" r="6.75"/><circle cx="1518.9" cy="1859.8" r="6.75"/><circle cx="1518.9" cy="1879.7" r="6.75"/><circle cx="1518.9" cy="1883.7" r="6.75"/><circle cx="1518.9" cy="1884.5" r="6.75"/><circle cx="1518.9" cy="1912.0" r="6.75"/><circle cx="1518.9" cy="1929.5" r="6.75"/><circle cx="1518.9" cy="1933.5" r="6.75"/><circle cx="1518.9" cy="1940.8" r="6.75"/></g>
<g fill="#4D4D4D" fill-opacity=".7" stroke="#4D4D4D" stroke-opacity=".7" stroke-width="1.5"><circle cx="1610.4" cy="1199.9" r="6.75"/><circle cx="1610.4" cy="1209.9" r="6.75"/><circle cx="1610.4" cy="1228.1" r="6.75"/><circle cx="1610.4" cy="1228.9" r="6.75"/><circle cx="1610.4" cy="1256.0" r="6.75"/><circle cx="1610.4" cy="1256.8" r="6.75"/><circle cx="1610.4" cy="1257.6" r="6.75"/><circle cx="1610.4" cy="1267.3" r="6.75"/><circle cx="1610.4" cy="1278.0" r="6.75"/><circle cx="1610.4" cy="1284.0" r="6.75"/><circle cx="1610.4" cy="1284.8" r="6.75"/><circle cx="1610.4" cy="1293.5" r="6.75"/><circle cx="1610.4" cy="1817.8" r="6.75"/><circle cx="1610.4" cy="1831.3" r="6.75"/><circle cx="1610.4" cy="1834.5" r="6.75"/><circle cx="1610.4" cy="1835.3" r="6.75"/><circle cx="1610.4" cy="1838.0" r="6.75"/><circle cx="1610.4" cy="1852.8" r="6.75"/><circle cx="1610.4" cy="1866.2" r="6.75"/><circle cx="1610.4" cy="1869.0" r="6.75"/><circle cx="1610.4" cy="1869.8" r="6.75"/><circle cx="1610.4" cy="1902.6" r="6.75"/><circle cx="1610.4" cy="1906.6" r="6.75"/><circle cx="1610.4" cy="1929.0" r="6.75"/><circle cx="1610.4" cy="1952.7" r="6.75"/></g>
<g fill="#4D4D4D" fill-opacity=".7" stroke="#4D4D4D" stroke-opacity=".7" stroke-width="1.5"><circle cx="1665.4" cy="1188.9" r="6.75"/><circle cx="1665.4" cy="1206.8" r="6.75"/><circle cx="1665.4" cy="1218.3" r="6.75"/><circle cx="1665.4" cy="1225.0" r="6.75"/><circle cx="1665.4" cy="1231.4" r="6.75"/><circle cx="1665.4" cy="1245.8" r="6.75"/><circle cx="1665.4" cy="1251.0" r="6.75"/><circle cx="1665.4" cy="1255.3" r="6.75"/><circle cx="1665.4" cy="1256.1" r="6.75"/><circle cx="1665.4" cy="1261.3" r="6.75"/><circle cx="1665.4" cy="1270.8" r="6.75"/><circle cx="1665.4" cy="1280.9" r="6.75"/><circle cx="1665.4" cy="1295.9" r="6.75"/><circle cx="1665.4" cy="1296.7" r="6.75"/><circle cx="1665.4" cy="1297.5" r="6.75"/><circle cx="1665.4" cy="1299.5" r="6.75"/><circle cx="1665.4" cy="1826.7" r="6.75"/><circle cx="1665.4" cy="1827.5" r="6.75"/><circle cx="1665.4" cy="1828.3" r="6.75"/><circle cx="1665.4" cy="1843.4" r="6.75"/><circle cx="1665.4" cy="1847.4" r="6.75"/><circle cx="1665.4" cy="1848.2" r="6.75"/><circle cx="1665.4" cy="1850.0" r="6.75"/><circle cx="1665.4" cy="1871.6" r="6.75"/><circle cx="1665.4" cy="1886.2" r="6.75"/><circle cx="1665.4" cy="1903.4" r="6.75"/><circle cx="1665.4" cy="1921.4" r="6.75"/><circle cx="1665.4" cy="1924.9" r="6.75"/><circle cx="1665.4" cy="1925.7" r="6.75"/><circle cx="1665.4" cy="1936.2" r="6.75"/><circle cx="1665.4" cy="1952.9" r="6.75"/></g>
<path d="M1463.9 1556.4V1595.2M1463.9 1632.3V1694.0" stroke="#333333" stroke-width="2.85"/>
<rect x="1439.2" y="1595.2" width="49.4" height="37.1" fill="#414487" fill-opacity="0.58" stroke="none"/>
<rect x="1439.2" y="1595.2" width="49.4" height="37.1" fill="none" stroke="#333333" stroke-width="2.85"/>
<path d="M1439.2 1611.9H1488.7" stroke="#333333" stroke-width="5.4"/>
<path d="M1518.9 1585.0V1605.7M1518.9 1639.3V1694.0" stroke="#333333" stroke-width="2.85"/>
<rect x="1494.1" y="1605.7" width="49.4" height="33.6" fill="#5FB8A3" fill-opacity="0.58" stroke="none"/>
<rect x="1494.1" y="1605.7" width="49.4" height="33.6" fill="none" stroke="#333333" stroke-width="2.85"/>
<path d="M1494.1 1617.3H1543.6" stroke="#333333" stroke-width="5.4"/>
<path d="M1610.4 1301.2V1490.4M1610.4 1617.2V1806.2" stroke="#333333" stroke-width="2.85"/>
<rect x="1585.7" y="1490.4" width="49.4" height="126.8" fill="#414487" fill-opacity="0.58" stroke="none"/>
<rect x="1585.7" y="1490.4" width="49.4" height="126.8" fill="none" stroke="#333333" stroke-width="2.85"/>
<path d="M1585.7 1554.5H1635.2" stroke="#333333" stroke-width="5.4"/>
<path d="M1665.4 1311.9V1499.2M1665.4 1624.7V1814.3" stroke="#333333" stroke-width="2.85"/>
<rect x="1640.6" y="1499.2" width="49.4" height="125.5" fill="#5FB8A3" fill-opacity="0.58" stroke="none"/>
<rect x="1640.6" y="1499.2" width="49.4" height="125.5" fill="none" stroke="#333333" stroke-width="2.85"/>
<path d="M1640.6 1568.0H1690.1" stroke="#333333" stroke-width="5.4"/>
<text transform="translate(15.0 56.5) scale(1 1)" font-size="54.5" fill="#000">(a)</text>
<text transform="translate(26.2 1096.7) scale(1 1)" font-size="54.5" fill="#000">(b)</text>
<text transform="translate(275.9 76.3) scale(1 1)" font-size="43.1" fill="#111">NSE</text>
<text transform="translate(650.3 76.3) scale(1 1)" font-size="43.1" fill="#111">RecipNSE</text>
<text transform="translate(1102.8 76.3) scale(1 1)" font-size="43.1" fill="#111">KGE</text>
<text transform="translate(1519.6 76.3) scale(1 1)" font-size="43.1" fill="#111">Bias</text>
<text transform="translate(311.4 1154.5) scale(1 1)" font-size="43.1" fill="#111">NSE</text>
<text transform="translate(679.8 1154.5) scale(1 1)" font-size="43.1" fill="#111">RecipNSE</text>
<text transform="translate(1124.8 1154.5) scale(1 1)" font-size="43.1" fill="#111">KGE</text>
<text transform="translate(1536.7 1154.5) scale(1 1)" font-size="43.1" fill="#111">Bias</text>
<text transform="translate(174.0 993.5) scale(1 1.04)" font-size="37.4" fill="#454545" letter-spacing="-0.28">Training</text>
<text transform="translate(340.5 993.5) scale(1 1.04)" font-size="37.4" fill="#454545">Testing</text>
<text transform="translate(587.7 993.5) scale(1 1.04)" font-size="37.4" fill="#454545" letter-spacing="-0.28">Training</text>
<text transform="translate(754.9 993.5) scale(1 1.04)" font-size="37.4" fill="#454545">Testing</text>
<text transform="translate(1002.1 993.5) scale(1 1.04)" font-size="37.4" fill="#454545" letter-spacing="-0.28">Training</text>
<text transform="translate(1168.2 993.5) scale(1 1.04)" font-size="37.4" fill="#454545">Testing</text>
<text transform="translate(1415.9 993.5) scale(1 1.04)" font-size="37.4" fill="#454545" letter-spacing="-0.28">Training</text>
<text transform="translate(1582.2 993.5) scale(1 1.04)" font-size="37.4" fill="#454545">Testing</text>
<text transform="translate(217.2 2047.8) scale(1 1.04)" font-size="37.4" fill="#454545" letter-spacing="-0.28">Training</text>
<text transform="translate(369.8 2047.8) scale(1 1.04)" font-size="37.4" fill="#454545">Testing</text>
<text transform="translate(624.5 2047.8) scale(1 1.04)" font-size="37.4" fill="#454545" letter-spacing="-0.28">Training</text>
<text transform="translate(777.1 2047.8) scale(1 1.04)" font-size="37.4" fill="#454545">Testing</text>
<text transform="translate(1031.3 2047.8) scale(1 1.04)" font-size="37.4" fill="#454545" letter-spacing="-0.28">Training</text>
<text transform="translate(1183.4 2047.8) scale(1 1.04)" font-size="37.4" fill="#454545">Testing</text>
<text transform="translate(1438.4 2047.8) scale(1 1.04)" font-size="37.4" fill="#454545" letter-spacing="-0.28">Training</text>
<text transform="translate(1591.0 2047.8) scale(1 1.04)" font-size="37.4" fill="#454545">Testing</text>
<text transform="translate(98.5 184.2) scale(1 1.04)" font-size="37.4" fill="#454545">0</text>
<text transform="translate(81.1 386.6) scale(1 1.04)" font-size="37.4" fill="#454545">−5</text>
<text transform="translate(63.6 588.9) scale(1 1.04)" font-size="37.4" fill="#454545">−10</text>
<text transform="translate(63.6 791.2) scale(1 1.04)" font-size="37.4" fill="#454545">−15</text>
<text transform="translate(511.5 140.5) scale(1 1.04)" font-size="37.4" fill="#454545">1</text>
<text transform="translate(512.7 305.4) scale(1 1.04)" font-size="37.4" fill="#454545">0</text>
<text transform="translate(492.7 470.3) scale(1 1.04)" font-size="37.4" fill="#454545">−1</text>
<text transform="translate(494.8 635.2) scale(1 1.04)" font-size="37.4" fill="#454545">−2</text>
<text transform="translate(494.7 800.1) scale(1 1.04)" font-size="37.4" fill="#454545">−3</text>
<text transform="translate(494.5 965.0) scale(1 1.04)" font-size="37.4" fill="#454545">−4</text>
<text transform="translate(925.3 140.5) scale(1 1.04)" font-size="37.4" fill="#454545">1</text>
<text transform="translate(926.3 323.9) scale(1 1.04)" font-size="37.4" fill="#454545">0</text>
<text transform="translate(906.6 507.2) scale(1 1.04)" font-size="37.4" fill="#454545">−1</text>
<text transform="translate(908.7 690.5) scale(1 1.04)" font-size="37.4" fill="#454545">−2</text>
<text transform="translate(908.6 873.9) scale(1 1.04)" font-size="37.4" fill="#454545">−3</text>
<text transform="translate(1340.5 225.2) scale(1 1.04)" font-size="37.4" fill="#454545">2</text>
<text transform="translate(1340.1 463.2) scale(1 1.04)" font-size="37.4" fill="#454545">1</text>
<text transform="translate(1339.8 701.3) scale(1 1.04)" font-size="37.4" fill="#454545">0</text>
<text transform="translate(1320.4 939.4) scale(1 1.04)" font-size="37.4" fill="#454545">−1</text>
<text transform="translate(124.7 1220.8) scale(1 1.04)" font-size="37.4" fill="#454545">1.0</text>
<text transform="translate(124.4 1411.4) scale(1 1.04)" font-size="37.4" fill="#454545">0.5</text>
<text transform="translate(124.6 1602.0) scale(1 1.04)" font-size="37.4" fill="#454545">0.0</text>
<text transform="translate(107.5 1792.6) scale(1 1.04)" font-size="37.4" fill="#454545">−0.5</text>
<text transform="translate(107.1 1983.2) scale(1 1.04)" font-size="37.4" fill="#454545">−1.0</text>
<text transform="translate(532.3 1220.8) scale(1 1.04)" font-size="37.4" fill="#454545">1.0</text>
<text transform="translate(532.0 1411.4) scale(1 1.04)" font-size="37.4" fill="#454545">0.5</text>
<text transform="translate(531.5 1602.0) scale(1 1.04)" font-size="37.4" fill="#454545">0.0</text>
<text transform="translate(514.3 1792.6) scale(1 1.04)" font-size="37.4" fill="#454545">−0.5</text>
<text transform="translate(514.3 1983.2) scale(1 1.04)" font-size="37.4" fill="#454545">−1.0</text>
<text transform="translate(939.6 1220.8) scale(1 1.04)" font-size="37.4" fill="#454545">1.0</text>
<text transform="translate(939.1 1411.4) scale(1 1.04)" font-size="37.4" fill="#454545">0.5</text>
<text transform="translate(938.4 1602.0) scale(1 1.04)" font-size="37.4" fill="#454545">0.0</text>
<text transform="translate(921.5 1792.6) scale(1 1.04)" font-size="37.4" fill="#454545">−0.5</text>
<text transform="translate(921.5 1983.2) scale(1 1.04)" font-size="37.4" fill="#454545">−1.0</text>
<text transform="translate(1346.2 1220.8) scale(1 1.04)" font-size="37.4" fill="#454545">1.0</text>
<text transform="translate(1346.0 1411.4) scale(1 1.04)" font-size="37.4" fill="#454545">0.5</text>
<text transform="translate(1345.8 1602.0) scale(1 1.04)" font-size="37.4" fill="#454545">0.0</text>
<text transform="translate(1328.4 1792.6) scale(1 1.04)" font-size="37.4" fill="#454545">−0.5</text>
<text transform="translate(1328.4 1983.2) scale(1 1.04)" font-size="37.4" fill="#454545">−1.0</text>
<path d="M1813.4 997.7V1010.5M1813.4 1050.2V1062.4" stroke="#333333" stroke-width="4.75"/>
<rect x="1783.2" y="1010.5" width="60.6" height="39.7" fill="#414487" fill-opacity="0.58"/>
<rect x="1783.2" y="1010.5" width="60.6" height="39.7" fill="none" stroke="#333333" stroke-width="4.75"/>
<path d="M1783.2 1030.0H1843.8" stroke="#333333" stroke-width="4.75"/>
<path d="M1813.4 1079.9V1092.3M1813.4 1132.2V1144.3" stroke="#333333" stroke-width="4.75"/>
<rect x="1783.2" y="1092.3" width="60.6" height="39.9" fill="#5FB8A3" fill-opacity="0.58"/>
<rect x="1783.2" y="1092.3" width="60.6" height="39.9" fill="none" stroke="#333333" stroke-width="4.75"/>
<path d="M1783.2 1111.7H1843.8" stroke="#333333" stroke-width="4.75"/>
<text transform="translate(1872.4 1044.4) scale(1 1.04)" font-size="42.3" fill="#000">WAPABA</text>
<text transform="translate(1875.9 1126.1) scale(1 1.04)" font-size="43" fill="#000">LSTM</text>
</svg>
</body></html>
